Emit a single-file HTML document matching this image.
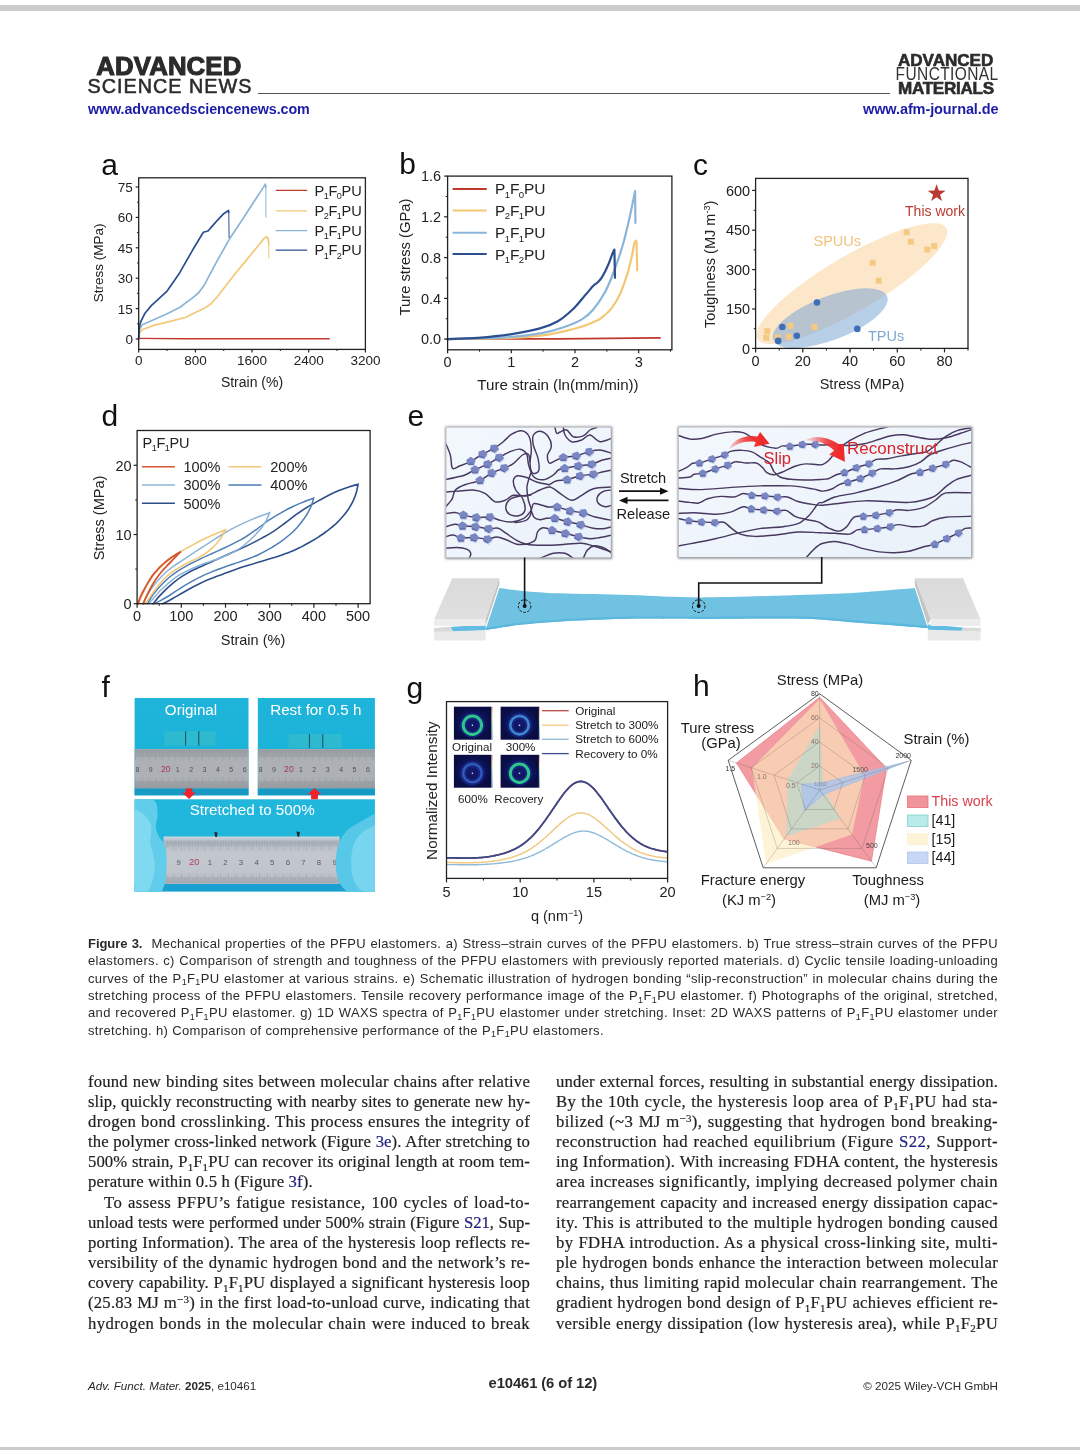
<!DOCTYPE html>
<html><head><meta charset="utf-8"><title>Adv. Funct. Mater. 2025, e10461</title>
<style>
*{margin:0;padding:0;box-sizing:border-box}
html,body{width:1080px;height:1450px;background:#fff;overflow:hidden}
body{position:relative;font-family:"Liberation Sans",sans-serif;color:#222}
#pg{position:absolute;left:0;top:0;width:1080px;height:1450px;overflow:hidden;will-change:transform;background:#fff}
.abs{position:absolute}
.bar{position:absolute;left:0;width:1080px;background:#ccc}
.hdrl{position:absolute;white-space:nowrap;color:#2b2b2b}
.url{position:absolute;font-weight:bold;color:#1c1ca8;font-size:14.6px;white-space:nowrap;letter-spacing:-0.1px}
.cap{position:absolute;left:88px;width:910px;font-size:13px;line-height:17.4px;color:#2a2a2a;text-align:justify;text-align-last:justify;white-space:nowrap;height:17.4px}
.cap.last{text-align-last:left}
.cap sub{font-size:9px;vertical-align:baseline;position:relative;top:2.5px;line-height:0}
.bl{position:absolute;width:442px;font-family:"Liberation Serif",serif;font-size:16.7px;line-height:20.17px;height:20.17px;color:#1f1f1f;-webkit-text-stroke:0.2px #1f1f1f;text-align:justify;text-align-last:justify;white-space:nowrap}
.bl.last{text-align-last:left}
.bl sub{font-size:11px;vertical-align:baseline;position:relative;top:3.5px;line-height:0}
.bl sup{font-size:11px;vertical-align:baseline;position:relative;top:-5px;line-height:0}
.bl a{color:#1c1c9c;text-decoration:none}
.ft{position:absolute;font-size:11.3px;color:#2a2a2a;white-space:nowrap}
svg text{font-family:"Liberation Sans",sans-serif}
</style></head>
<body>
<div id="pg">
<div class="bar" style="top:5px;height:6px"></div>
<div class="bar" style="top:1447px;height:3px"></div>
<div class="hdrl" id="adv1" style="left:96.3px;top:50.2px;font-size:25.8px;font-weight:bold;letter-spacing:0.1px;line-height:32px;-webkit-text-stroke:1.1px #2b2b2b">ADVANCED</div>
<div class="hdrl" id="sn" style="left:87.6px;top:74.2px;font-size:19.8px;line-height:24px;letter-spacing:1.0px;-webkit-text-stroke:0.55px #2b2b2b">SCIENCE NEWS</div>
<div class="abs" style="left:258px;top:93px;width:632px;height:1px;background:#555"></div>
<div class="url" id="url1" style="left:88px;top:100.8px;font-size:14.3px">www.advancedsciencenews.com</div>
<div class="hdrl" id="adv2" style="left:898px;top:50px;font-size:17.1px;font-weight:bold;letter-spacing:-0.05px;line-height:22px;-webkit-text-stroke:0.6px #2b2b2b">ADVANCED</div>
<div class="hdrl" id="fun" style="left:895.6px;top:64.7px;font-size:15.5px;line-height:20px;letter-spacing:0.4px;font-weight:normal;color:#333;transform:scaleY(1.13);transform-origin:50% 75%">FUNCTIONAL</div>
<div class="hdrl" id="mat" style="left:898px;top:77.7px;font-size:17.1px;font-weight:bold;letter-spacing:-0.3px;line-height:22px;-webkit-text-stroke:0.6px #2b2b2b">MATERIALS</div>
<div class="url" id="url2" style="left:863px;top:100.8px;font-size:14.5px">www.afm-journal.de</div>
<svg class="abs" style="left:0;top:130px" width="1080" height="800" viewBox="0 130 1080 800">
<text x="101.2" y="174.5" font-size="30" text-anchor="start" fill="#111" >a</text>
<path d="M138.7 338.4 L185.9 338.7 L329.2 338.7" fill="none" stroke="#c0392b" stroke-width="1.4" stroke-linejoin="round" stroke-linecap="round" />
<path d="M138.7 339 L139.7 332.7 L142.5 329.5 L154.5 325.1 L170.2 321.4 L185.9 317.3 L195.4 312.5 L204.8 308.1 L211.1 303.7 L217.4 296.8 L223.7 288.6 L236.3 272.2 L248.9 257.1 L258.4 245.5 L264 238.6 L266.5 236.7 L268.1 238.6 L268.8 243.9" fill="none" stroke="#f4c775" stroke-width="1.7" stroke-linejoin="round" stroke-linecap="round" />
<path d="M268.8 243.9 L268.8 258.1" fill="none" stroke="#f4c775" stroke-width="1.0" stroke-linejoin="round" stroke-linecap="round" />
<path d="M138.7 339 L139.3 330.5 L141.9 325.1 L151.3 320.7 L167.1 313.8 L179.6 307.5 L192.2 298.1 L198.5 293 L204.8 284.2 L211.1 272.2 L217.4 260.3 L230 238.2 L242.6 219.3 L255.2 199.8 L263.1 187.9 L265.3 184.1 L265.9 187.2" fill="none" stroke="#8ab4d8" stroke-width="1.7" stroke-linejoin="round" stroke-linecap="round" />
<path d="M265.9 187.2 L265.9 217.1" fill="none" stroke="#8ab4d8" stroke-width="1.0" stroke-linejoin="round" stroke-linecap="round" />
<path d="M138.7 339 L139 328.9 L140.6 322 L145 313.2 L151.3 305.6 L167.1 291.1 L179.6 272.9 L192.2 250.8 L203.3 232.3 L208 231 L212.7 225.6 L217.4 220.3 L223.7 213.7 L228.5 210.5 L228.8 212.4" fill="none" stroke="#2c4f8f" stroke-width="1.7" stroke-linejoin="round" stroke-linecap="round" />
<path d="M228.8 212.4 L229.1 237.6" fill="none" stroke="#2c4f8f" stroke-width="1.0" stroke-linejoin="round" stroke-linecap="round" />
<rect x="138.7" y="177.8" width="226.7" height="171.6" fill="none" stroke="#222" stroke-width="1.3"/>
<line x1="138.7" y1="349.4" x2="138.7" y2="352.4" stroke="#222" stroke-width="1.2"/>
<text x="138.7" y="365.3" font-size="13.5" text-anchor="middle" fill="#222" >0</text>
<line x1="195.4" y1="349.4" x2="195.4" y2="352.4" stroke="#222" stroke-width="1.2"/>
<text x="195.4" y="365.3" font-size="13.5" text-anchor="middle" fill="#222" >800</text>
<line x1="252" y1="349.4" x2="252" y2="352.4" stroke="#222" stroke-width="1.2"/>
<text x="252" y="365.3" font-size="13.5" text-anchor="middle" fill="#222" >1600</text>
<line x1="308.7" y1="349.4" x2="308.7" y2="352.4" stroke="#222" stroke-width="1.2"/>
<text x="308.7" y="365.3" font-size="13.5" text-anchor="middle" fill="#222" >2400</text>
<line x1="365.4" y1="349.4" x2="365.4" y2="352.4" stroke="#222" stroke-width="1.2"/>
<text x="365.4" y="365.3" font-size="13.5" text-anchor="middle" fill="#222" >3200</text>
<line x1="167.1" y1="349.4" x2="167.1" y2="351" stroke="#222" stroke-width="1"/>
<line x1="223.7" y1="349.4" x2="223.7" y2="351" stroke="#222" stroke-width="1"/>
<line x1="280.4" y1="349.4" x2="280.4" y2="351" stroke="#222" stroke-width="1"/>
<line x1="337" y1="349.4" x2="337" y2="351" stroke="#222" stroke-width="1"/>
<line x1="135.7" y1="339" x2="138.7" y2="339" stroke="#222" stroke-width="1.2"/>
<text x="132.9" y="343.9" font-size="13.5" text-anchor="end" fill="#222" >0</text>
<line x1="135.7" y1="308.6" x2="138.7" y2="308.6" stroke="#222" stroke-width="1.2"/>
<text x="132.9" y="313.5" font-size="13.5" text-anchor="end" fill="#222" >15</text>
<line x1="135.7" y1="278.2" x2="138.7" y2="278.2" stroke="#222" stroke-width="1.2"/>
<text x="132.9" y="283.1" font-size="13.5" text-anchor="end" fill="#222" >30</text>
<line x1="135.7" y1="247.8" x2="138.7" y2="247.8" stroke="#222" stroke-width="1.2"/>
<text x="132.9" y="252.7" font-size="13.5" text-anchor="end" fill="#222" >45</text>
<line x1="135.7" y1="217.4" x2="138.7" y2="217.4" stroke="#222" stroke-width="1.2"/>
<text x="132.9" y="222.3" font-size="13.5" text-anchor="end" fill="#222" >60</text>
<line x1="135.7" y1="187" x2="138.7" y2="187" stroke="#222" stroke-width="1.2"/>
<text x="132.9" y="191.9" font-size="13.5" text-anchor="end" fill="#222" >75</text>
<line x1="137" y1="323.8" x2="138.7" y2="323.8" stroke="#222" stroke-width="1"/>
<line x1="137" y1="293.4" x2="138.7" y2="293.4" stroke="#222" stroke-width="1"/>
<line x1="137" y1="263" x2="138.7" y2="263" stroke="#222" stroke-width="1"/>
<line x1="137" y1="232.6" x2="138.7" y2="232.6" stroke="#222" stroke-width="1"/>
<line x1="137" y1="202.2" x2="138.7" y2="202.2" stroke="#222" stroke-width="1"/>
<text x="252" y="386.5" font-size="14" text-anchor="middle" fill="#222" >Strain (%)</text>
<text x="103.5" y="262.8" font-size="13.5" text-anchor="middle" fill="#222" transform="rotate(-90 103.5 262.8)" >Stress (MPa)</text>
<line x1="275.7" y1="190.4" x2="307.2" y2="190.4" stroke="#c0392b" stroke-width="1.3"/>
<text x="314.4" y="195.6" font-size="14.6" text-anchor="start" fill="#222" >P<tspan dy="3.2" dx="-0.5" font-size="9.1">1</tspan><tspan dy="-3.2" dx="-0.3">F</tspan><tspan dy="3.2" dx="-0.5" font-size="9.1">0</tspan><tspan dy="-3.2" dx="-0.3">PU</tspan></text>
<line x1="275.7" y1="210.8" x2="307.2" y2="210.8" stroke="#f4c775" stroke-width="1.3"/>
<text x="314.4" y="216" font-size="14.6" text-anchor="start" fill="#222" >P<tspan dy="3.2" dx="-0.5" font-size="9.1">2</tspan><tspan dy="-3.2" dx="-0.3">F</tspan><tspan dy="3.2" dx="-0.5" font-size="9.1">1</tspan><tspan dy="-3.2" dx="-0.3">PU</tspan></text>
<line x1="275.7" y1="230.7" x2="307.2" y2="230.7" stroke="#8ab4d8" stroke-width="1.3"/>
<text x="314.4" y="235.9" font-size="14.6" text-anchor="start" fill="#222" >P<tspan dy="3.2" dx="-0.5" font-size="9.1">1</tspan><tspan dy="-3.2" dx="-0.3">F</tspan><tspan dy="3.2" dx="-0.5" font-size="9.1">1</tspan><tspan dy="-3.2" dx="-0.3">PU</tspan></text>
<line x1="275.7" y1="250.2" x2="307.2" y2="250.2" stroke="#2c4f8f" stroke-width="1.3"/>
<text x="314.4" y="255.4" font-size="14.6" text-anchor="start" fill="#222" >P<tspan dy="3.2" dx="-0.5" font-size="9.1">1</tspan><tspan dy="-3.2" dx="-0.3">F</tspan><tspan dy="3.2" dx="-0.5" font-size="9.1">2</tspan><tspan dy="-3.2" dx="-0.3">PU</tspan></text>
<text x="399.2" y="174.3" font-size="30" text-anchor="start" fill="#111" >b</text>
<path d="M447.6 339.1 L557.8 338.8 L660 337.9" fill="none" stroke="#c0392b" stroke-width="1.8" stroke-linejoin="round" stroke-linecap="round" />
<path d="M447.6 339.1 C458 338.9 494.5 338.6 510.4 337.9 C526.3 337.3 534.1 336.3 543 335.3 C551.9 334.2 557.3 332.8 563.7 331.4 C570.1 330 576.5 328.2 581.5 326.7 C586.4 325.1 590.1 323.6 593.3 322.2 C596.5 320.8 597.8 320.6 600.7 318.4 C603.7 316.1 607.9 312.9 611.1 308.9 C614.3 304.8 617.3 299.9 620 294.1 C622.7 288.2 625.4 280.2 627.4 273.9 C629.4 267.6 630.7 261.2 631.9 256.1 C633 251.1 633.6 246.3 634.2 243.7 C634.9 241.1 635.3 241 635.7 240.7 C636.1 240.5 636.4 242 636.6 242.2 L637.2 270.4" fill="none" stroke="#f4c775" stroke-width="2.2" stroke-linejoin="round" stroke-linecap="round" />
<path d="M447.6 339.1 C458 338.8 494.5 338.1 510.4 337 C526.3 336 534.1 334.5 543 332.9 C551.9 331.3 557.3 329.5 563.7 327.3 C570.1 325 576.5 322.5 581.5 319.6 C586.4 316.6 589.4 314.1 593.3 309.5 C597.3 304.8 601.7 298.1 605.2 291.7 C608.6 285.3 611.1 278.9 614.1 271 C617 263.1 620.5 252.7 623 244.3 C625.4 235.9 627.2 228 628.9 220.6 C630.6 213.2 632.3 204.8 633.3 199.9 C634.4 194.9 634.8 192.4 635.1 191 L635.4 223" fill="none" stroke="#8ab4d8" stroke-width="2.2" stroke-linejoin="round" stroke-linecap="round" />
<path d="M447.6 339.1 C452.6 338.9 467.3 338.7 477.8 337.9 C488.2 337.1 500 336 510.4 334.4 C520.7 332.8 532.1 330.6 540 328.4 C547.9 326.3 552.3 324.5 557.8 321.3 C563.2 318.2 568.1 313.7 572.6 309.5 C577 305.3 581 300.1 584.4 296.1 C587.9 292.2 591.1 288.1 593.3 285.8 C595.6 283.5 596.3 283.7 597.8 282.2 C599.3 280.7 600.5 279.8 602.2 276.9 C604 274 606.4 269 608.1 265 C609.9 261.1 611.6 255.8 612.6 253.2 C613.6 250.6 614.1 250.2 614.4 249.6 L615 277.8" fill="none" stroke="#2c4f8f" stroke-width="2.2" stroke-linejoin="round" stroke-linecap="round" />
<rect x="447.6" y="176.1" width="224.3" height="173.7" fill="none" stroke="#222" stroke-width="1.3"/>
<line x1="447.6" y1="349.8" x2="447.6" y2="353.3" stroke="#222" stroke-width="1.2"/>
<text x="447.6" y="367.4" font-size="14.5" text-anchor="middle" fill="#222" >0</text>
<line x1="511.3" y1="349.8" x2="511.3" y2="353.3" stroke="#222" stroke-width="1.2"/>
<text x="511.3" y="367.4" font-size="14.5" text-anchor="middle" fill="#222" >1</text>
<line x1="575" y1="349.8" x2="575" y2="353.3" stroke="#222" stroke-width="1.2"/>
<text x="575" y="367.4" font-size="14.5" text-anchor="middle" fill="#222" >2</text>
<line x1="638.7" y1="349.8" x2="638.7" y2="353.3" stroke="#222" stroke-width="1.2"/>
<text x="638.7" y="367.4" font-size="14.5" text-anchor="middle" fill="#222" >3</text>
<line x1="479.5" y1="349.8" x2="479.5" y2="351.7" stroke="#222" stroke-width="1"/>
<line x1="543.1" y1="349.8" x2="543.1" y2="351.7" stroke="#222" stroke-width="1"/>
<line x1="606.9" y1="349.8" x2="606.9" y2="351.7" stroke="#222" stroke-width="1"/>
<line x1="670.5" y1="349.8" x2="670.5" y2="351.7" stroke="#222" stroke-width="1"/>
<line x1="444.1" y1="339.1" x2="447.6" y2="339.1" stroke="#222" stroke-width="1.2"/>
<text x="441.1" y="344.3" font-size="14.5" text-anchor="end" fill="#222" >0.0</text>
<line x1="444.1" y1="298.4" x2="447.6" y2="298.4" stroke="#222" stroke-width="1.2"/>
<text x="441.1" y="303.6" font-size="14.5" text-anchor="end" fill="#222" >0.4</text>
<line x1="444.1" y1="257.6" x2="447.6" y2="257.6" stroke="#222" stroke-width="1.2"/>
<text x="441.1" y="262.8" font-size="14.5" text-anchor="end" fill="#222" >0.8</text>
<line x1="444.1" y1="216.8" x2="447.6" y2="216.8" stroke="#222" stroke-width="1.2"/>
<text x="441.1" y="222.1" font-size="14.5" text-anchor="end" fill="#222" >1.2</text>
<line x1="444.1" y1="176.1" x2="447.6" y2="176.1" stroke="#222" stroke-width="1.2"/>
<text x="441.1" y="181.3" font-size="14.5" text-anchor="end" fill="#222" >1.6</text>
<line x1="445.7" y1="318.7" x2="447.6" y2="318.7" stroke="#222" stroke-width="1"/>
<line x1="445.7" y1="278" x2="447.6" y2="278" stroke="#222" stroke-width="1"/>
<line x1="445.7" y1="237.2" x2="447.6" y2="237.2" stroke="#222" stroke-width="1"/>
<line x1="445.7" y1="196.5" x2="447.6" y2="196.5" stroke="#222" stroke-width="1"/>
<text x="558" y="389.8" font-size="15.1" text-anchor="middle" fill="#222" >Ture strain (ln(mm/min))</text>
<text x="409.5" y="257" font-size="14.8" text-anchor="middle" fill="#222" transform="rotate(-90 409.5 257)" >Ture stress (GPa)</text>
<line x1="452.6" y1="188.9" x2="486.7" y2="188.9" stroke="#c0392b" stroke-width="2"/>
<text x="495" y="194.4" font-size="15.5" text-anchor="start" fill="#222" >P<tspan dy="3.4" dx="-0.5" font-size="9.6">1</tspan><tspan dy="-3.4" dx="-0.3">F</tspan><tspan dy="3.4" dx="-0.5" font-size="9.6">0</tspan><tspan dy="-3.4" dx="-0.3">PU</tspan></text>
<line x1="452.6" y1="210.5" x2="486.7" y2="210.5" stroke="#f4c775" stroke-width="2"/>
<text x="495" y="216" font-size="15.5" text-anchor="start" fill="#222" >P<tspan dy="3.4" dx="-0.5" font-size="9.6">2</tspan><tspan dy="-3.4" dx="-0.3">F</tspan><tspan dy="3.4" dx="-0.5" font-size="9.6">1</tspan><tspan dy="-3.4" dx="-0.3">PU</tspan></text>
<line x1="452.6" y1="232.7" x2="486.7" y2="232.7" stroke="#8ab4d8" stroke-width="2"/>
<text x="495" y="238.2" font-size="15.5" text-anchor="start" fill="#222" >P<tspan dy="3.4" dx="-0.5" font-size="9.6">1</tspan><tspan dy="-3.4" dx="-0.3">F</tspan><tspan dy="3.4" dx="-0.5" font-size="9.6">1</tspan><tspan dy="-3.4" dx="-0.3">PU</tspan></text>
<line x1="452.6" y1="254" x2="486.7" y2="254" stroke="#2c4f8f" stroke-width="2"/>
<text x="495" y="259.5" font-size="15.5" text-anchor="start" fill="#222" >P<tspan dy="3.4" dx="-0.5" font-size="9.6">1</tspan><tspan dy="-3.4" dx="-0.3">F</tspan><tspan dy="3.4" dx="-0.5" font-size="9.6">2</tspan><tspan dy="-3.4" dx="-0.3">PU</tspan></text>
<text x="693" y="174.8" font-size="30" text-anchor="start" fill="#111" >c</text>
<clipPath id="clipc"><rect x="755.6" y="178.4" width="212.4" height="170"/></clipPath>
<g clip-path="url(#clipc)">
<ellipse cx="851.9" cy="283.6" rx="109.5" ry="27.5" fill="#fce7cb" transform="rotate(-30.5 851.9 283.6)"/>
<ellipse cx="830.2" cy="318.2" rx="61" ry="21.8" fill="#7ea8d6" fill-opacity="0.55" transform="rotate(-21 830.2 318.2)"/>
</g>
<rect x="903.7" y="229.3" width="6" height="6" fill="#f6c983"/>
<rect x="907.8" y="238.7" width="6" height="6" fill="#f6c983"/>
<rect x="924.2" y="246.6" width="6" height="6" fill="#f6c983"/>
<rect x="931.1" y="243.1" width="6" height="6" fill="#f6c983"/>
<rect x="869.7" y="259.8" width="6" height="6" fill="#f6c983"/>
<rect x="875.7" y="277.7" width="6" height="6" fill="#f6c983"/>
<rect x="764.2" y="328.1" width="6" height="6" fill="#f6c983"/>
<rect x="763.3" y="334.7" width="6" height="6" fill="#f6c983"/>
<rect x="774.6" y="334.4" width="6" height="6" fill="#f6c983"/>
<rect x="785.6" y="333.8" width="6" height="6" fill="#f6c983"/>
<rect x="787.5" y="322.8" width="6" height="6" fill="#f6c983"/>
<rect x="811.4" y="324" width="6" height="6" fill="#f6c983"/>
<circle cx="817" cy="302.5" r="3.3" fill="#3f6eb4"/>
<circle cx="782.3" cy="327" r="3.3" fill="#3f6eb4"/>
<circle cx="796.8" cy="335.8" r="3.3" fill="#3f6eb4"/>
<circle cx="778.2" cy="340.9" r="3.3" fill="#3f6eb4"/>
<circle cx="857.3" cy="328.9" r="3.3" fill="#3f6eb4"/>
<path d="M936.6 184.2 L938.8 190.5 L945.5 190.7 L940.1 194.7 L942.1 201.1 L936.6 197.2 L931.1 201.1 L933.1 194.7 L927.8 190.7 L934.4 190.5Z" fill="#b93a32"/>
<text x="935" y="215.8" font-size="14" text-anchor="middle" fill="#b93a32" >This work</text>
<text x="813.5" y="246" font-size="14.5" text-anchor="start" fill="#f3c27c" >SPUUs</text>
<text x="868" y="340.5" font-size="14.5" text-anchor="start" fill="#7ea9d2" >TPUs</text>
<rect x="755.6" y="178.4" width="212.4" height="170" fill="none" stroke="#222" stroke-width="1.3"/>
<line x1="755.6" y1="348.4" x2="755.6" y2="352.4" stroke="#222" stroke-width="1.2"/>
<text x="755.6" y="366" font-size="14.5" text-anchor="middle" fill="#222" >0</text>
<line x1="802.8" y1="348.4" x2="802.8" y2="352.4" stroke="#222" stroke-width="1.2"/>
<text x="802.8" y="366" font-size="14.5" text-anchor="middle" fill="#222" >20</text>
<line x1="850" y1="348.4" x2="850" y2="352.4" stroke="#222" stroke-width="1.2"/>
<text x="850" y="366" font-size="14.5" text-anchor="middle" fill="#222" >40</text>
<line x1="897.3" y1="348.4" x2="897.3" y2="352.4" stroke="#222" stroke-width="1.2"/>
<text x="897.3" y="366" font-size="14.5" text-anchor="middle" fill="#222" >60</text>
<line x1="944.5" y1="348.4" x2="944.5" y2="352.4" stroke="#222" stroke-width="1.2"/>
<text x="944.5" y="366" font-size="14.5" text-anchor="middle" fill="#222" >80</text>
<line x1="779.2" y1="348.4" x2="779.2" y2="350.6" stroke="#222" stroke-width="1"/>
<line x1="826.4" y1="348.4" x2="826.4" y2="350.6" stroke="#222" stroke-width="1"/>
<line x1="873.6" y1="348.4" x2="873.6" y2="350.6" stroke="#222" stroke-width="1"/>
<line x1="920.9" y1="348.4" x2="920.9" y2="350.6" stroke="#222" stroke-width="1"/>
<line x1="968" y1="348.4" x2="968" y2="350.6" stroke="#222" stroke-width="1"/>
<line x1="752.1" y1="348.4" x2="755.6" y2="348.4" stroke="#222" stroke-width="1.2"/>
<text x="750.1" y="353.6" font-size="14.5" text-anchor="end" fill="#222" >0</text>
<line x1="752.1" y1="309" x2="755.6" y2="309" stroke="#222" stroke-width="1.2"/>
<text x="750.1" y="314.2" font-size="14.5" text-anchor="end" fill="#222" >150</text>
<line x1="752.1" y1="269.6" x2="755.6" y2="269.6" stroke="#222" stroke-width="1.2"/>
<text x="750.1" y="274.8" font-size="14.5" text-anchor="end" fill="#222" >300</text>
<line x1="752.1" y1="230.2" x2="755.6" y2="230.2" stroke="#222" stroke-width="1.2"/>
<text x="750.1" y="235.4" font-size="14.5" text-anchor="end" fill="#222" >450</text>
<line x1="752.1" y1="190.4" x2="755.6" y2="190.4" stroke="#222" stroke-width="1.2"/>
<text x="750.1" y="195.6" font-size="14.5" text-anchor="end" fill="#222" >600</text>
<line x1="753.7" y1="328.7" x2="755.6" y2="328.7" stroke="#222" stroke-width="1"/>
<line x1="753.7" y1="289.3" x2="755.6" y2="289.3" stroke="#222" stroke-width="1"/>
<line x1="753.7" y1="249.9" x2="755.6" y2="249.9" stroke="#222" stroke-width="1"/>
<line x1="753.7" y1="210.3" x2="755.6" y2="210.3" stroke="#222" stroke-width="1"/>
<text x="862" y="389" font-size="14.5" text-anchor="middle" fill="#222" >Stress (MPa)</text>
<text x="715.4" y="264.4" font-size="14.5" text-anchor="middle" fill="#222" transform="rotate(-90 715.4 264.4)" >Toughness (MJ m<tspan dy="-5.2" font-size="9">-3</tspan><tspan dy="5.2">)</tspan></text>
<text x="101.5" y="426" font-size="30" text-anchor="start" fill="#111" >d</text>
<path d="M153.1 603.8 C154.1 602.6 157.5 598.3 159.6 595.9 C161.7 593.6 164.7 590.5 167 588.3 C169.4 586.1 172.7 583.3 175.1 581.3 C177.6 579.4 180.3 577.4 183.2 575.6 C186.2 573.8 191.3 571 194.8 569.3 C198.3 567.6 203.1 565.5 206.4 564 C209.7 562.5 213.7 560.7 216.8 559.4 C219.9 558 223.9 556.2 227.2 554.7 C230.5 553.3 235.3 551.2 238.8 549.6 C242.3 548 246.9 545.8 250.4 544.1 C253.8 542.3 258.5 540 261.9 538.1 C265.4 536.1 270 533.6 273.5 531.3 C277 529.1 281.6 525.6 285.1 523 C288.6 520.4 293.5 516.5 296.7 514.2 C299.8 512 303.1 509.7 305.9 508 C308.7 506.2 312.1 504.4 315.2 502.6 C318.3 500.9 323.3 497.9 326.8 496.2 C330.2 494.4 335 492.2 338.3 490.8 C341.6 489.4 345.8 487.9 348.8 486.9 C351.7 485.9 356.6 484.7 358 484.4 L358 484.4 C357.8 485.5 357.1 489.8 356.4 492.2 C355.7 494.6 354.5 497.9 353.4 500.3 C352.2 502.8 350.3 506.3 348.8 508.7 C347.2 511.1 344.9 514 343 516.3 C341 518.6 338 521.9 335.6 524.2 C333.1 526.4 329.3 529.2 326.8 531.1 C324.2 533 321.1 535.3 318.7 536.9 C316.2 538.5 313.2 540.3 310.6 541.8 C308 543.3 304.1 545.4 301.3 546.9 C298.5 548.3 295.2 550 292 551.2 C288.9 552.5 283.9 554.2 280.5 555.4 C277 556.6 272.4 558 268.9 559.1 C265.4 560.2 260.8 561.6 257.3 562.6 C253.8 563.6 249.2 565 245.7 566.1 C242.3 567.2 237.6 568.8 234.2 570 C230.7 571.2 226.1 572.9 222.6 574.2 C219.1 575.5 214.5 577.1 211 578.6 C207.5 580 202.9 582 199.4 583.7 C196 585.3 191.3 587.8 187.9 589.7 C184.4 591.6 179.2 594.7 176.3 596.4 C173.3 598.1 170.3 599.9 168.2 601 C166.1 602.1 163.3 603.4 162.4 603.8" fill="none" stroke="#2c4f8c" stroke-width="1.6" stroke-linejoin="miter" stroke-miterlimit="6" stroke-linecap="round"/>
<path d="M147.4 603.8 C148.2 602.4 151.2 597.2 153.1 594.5 C155.1 591.9 157.8 588.6 160.1 586.2 C162.3 583.8 165.8 580.5 168.2 578.3 C170.6 576.2 173.3 574.1 176.3 572.1 C179.2 570.1 184.4 567 187.9 565.1 C191.3 563.2 196 561 199.4 559.4 C202.9 557.7 207.5 555.6 211 554 C214.5 552.4 219.1 550.3 222.6 548.7 C226.1 547.1 230.7 544.9 234.2 543.1 C237.6 541.4 242.3 539.1 245.7 536.9 C249.2 534.7 253.8 531.3 257.3 528.8 C260.8 526.3 265.4 522.6 268.9 520.2 C272.4 517.9 277 515 280.5 513.1 C283.9 511.1 288.7 508.6 292 507 C295.3 505.4 299.2 503.7 302.5 502.4 C305.7 501.1 311.9 498.9 313.6 498.2 L313.6 498.2 C313.3 499.2 312.5 502.6 311.7 504.7 C310.9 506.8 309.5 509.8 308.2 512.1 C307 514.4 304.9 517.6 303.1 520 C301.4 522.4 298.7 525.6 296.7 527.9 C294.6 530.1 291.7 533 289.3 535 C286.8 537.1 283.5 539.6 280.5 541.8 C277.4 543.9 272.4 547.2 268.9 549.2 C265.4 551.2 260.8 553.6 257.3 555.2 C253.8 556.8 249.2 558.5 245.7 559.8 C242.3 561.1 237.6 562.6 234.2 563.8 C230.7 564.9 226.1 566.4 222.6 567.7 C219.1 568.9 214.5 570.6 211 572.1 C207.5 573.5 202.9 575.7 199.4 577.4 C196 579.1 191 581.9 187.9 583.7 C184.7 585.5 181.4 587.7 178.6 589.4 C175.8 591.2 172.1 593.8 169.4 595.5 C166.6 597.2 162.5 599.5 160.1 600.8 C157.7 602 154.2 603.3 153.1 603.8" fill="none" stroke="#4d7db6" stroke-width="1.5" stroke-linejoin="miter" stroke-miterlimit="6" stroke-linecap="round"/>
<path d="M142.7 603.8 C143.4 602.5 145.8 597.6 147.4 595 C148.9 592.4 151.2 588.8 153.1 586.2 C155.1 583.6 158 580.1 160.1 577.9 C162.2 575.6 165 573 167 571.2 C169.1 569.4 171.9 567.3 174 565.8 C176.1 564.4 178.5 563 180.9 561.4 C183.4 559.8 187.4 557 190.2 555.2 C193 553.3 196.1 551.3 199.4 549.2 C202.7 547 208.3 543.3 212.2 540.8 C216.1 538.3 221.9 534.5 225.4 532.5 C228.8 530.5 232.3 528.7 235.3 527.2 C238.4 525.6 242.4 523.6 245.7 522.1 C249 520.6 253.7 518.6 257.3 517.2 C260.9 515.8 267.7 513.5 269.6 512.8 L269.6 512.8 C269.1 513.9 267.7 517.6 266.6 519.8 C265.4 521.9 263.5 525.1 261.9 527.2 C260.4 529.3 257.9 532 256.2 533.9 C254.4 535.8 252.6 537.6 250.4 539.7 C248.1 541.7 243.9 545.6 241.1 547.5 C238.3 549.5 234.6 551.4 231.9 552.9 C229.1 554.3 225.7 555.8 222.6 557 C219.5 558.3 214.5 560 211 561.2 C207.5 562.5 202.9 564 199.4 565.4 C196 566.8 191.3 568.7 187.9 570.5 C184.4 572.2 179.2 575 176.3 576.9 C173.3 578.9 170.6 581.3 168.2 583.4 C165.8 585.5 162.3 588.5 160.1 590.8 C157.8 593.1 154.9 596.8 153.1 598.7 C151.4 600.6 149.2 603 148.5 603.8" fill="none" stroke="#8ab5d8" stroke-width="1.5" stroke-linejoin="miter" stroke-miterlimit="6" stroke-linecap="round"/>
<path d="M138.8 603.8 C139.1 602.8 140.2 598.9 141.1 596.9 C142 594.8 143.4 592.2 144.6 589.9 C145.8 587.6 147.8 583.9 149.2 581.6 C150.6 579.3 152.3 576.6 153.8 574.6 C155.4 572.6 157.9 570 159.6 568.1 C161.4 566.3 163.4 564.3 165.4 562.6 C167.5 560.9 171 558.2 173.3 556.6 C175.6 554.9 178.4 553 180.9 551.5 C183.5 550 187.4 547.9 190.2 546.4 C193 544.9 196.1 543 199.4 541.3 C202.7 539.6 208.3 537 212.2 535.3 C216.1 533.5 223.4 530.6 225.4 529.7 L225.4 529.7 C224.9 530.7 223.2 534.4 222.1 536.2 C221 538 219.6 539.9 218 541.8 C216.4 543.6 213.6 546.8 211.5 548.7 C209.4 550.6 206.4 553 204.1 554.5 C201.7 556 198.4 557.6 196 558.9 C193.5 560.1 190.3 561.6 187.9 562.8 C185.4 564.1 182.2 565.8 179.8 567.2 C177.3 568.6 173.9 570.6 171.7 572.3 C169.4 574 166.8 576.2 164.7 578.3 C162.6 580.4 159.9 583.6 157.8 586.2 C155.7 588.8 152.7 593.3 150.8 595.9 C148.9 598.6 145.9 602.6 145 603.8" fill="none" stroke="#f3c878" stroke-width="1.6" stroke-linejoin="miter" stroke-miterlimit="6" stroke-linecap="round"/>
<path d="M138.1 603.8 C138.4 602.8 139.5 598.9 140.4 596.9 C141.3 594.8 142.7 592.2 143.9 589.9 C145.1 587.6 147.1 583.9 148.5 581.6 C149.9 579.3 151.6 576.6 153.1 574.6 C154.7 572.6 157.2 570 158.9 568.1 C160.7 566.3 162.6 564.3 164.7 562.6 C166.8 560.9 170.4 558.2 172.8 556.6 C175.3 554.9 179.7 552.2 180.9 551.5 L180.9 551.5 C180.2 552.2 177.7 554.7 176.3 556.1 C174.9 557.5 173.2 559.3 171.7 561 C170.1 562.6 167.6 565.1 165.9 567 C164.1 568.9 161.7 571.4 160.1 573.5 C158.5 575.5 156.5 578.4 155 580.6 C153.5 582.9 151.7 586.1 150.4 588.5 C149.1 590.9 147.3 594.6 146.2 596.9 C145.1 599.1 143.6 602.8 143.2 603.8" fill="none" stroke="#d5552f" stroke-width="1.8" stroke-linejoin="miter" stroke-miterlimit="6" stroke-linecap="round"/>
<rect x="137.1" y="430.5" width="233" height="173.2" fill="none" stroke="#222" stroke-width="1.3"/>
<line x1="137.1" y1="603.7" x2="137.1" y2="607.7" stroke="#222" stroke-width="1.2"/>
<text x="137.1" y="621" font-size="14.5" text-anchor="middle" fill="#222" >0</text>
<line x1="181.3" y1="603.7" x2="181.3" y2="607.7" stroke="#222" stroke-width="1.2"/>
<text x="181.3" y="621" font-size="14.5" text-anchor="middle" fill="#222" >100</text>
<line x1="225.5" y1="603.7" x2="225.5" y2="607.7" stroke="#222" stroke-width="1.2"/>
<text x="225.5" y="621" font-size="14.5" text-anchor="middle" fill="#222" >200</text>
<line x1="269.7" y1="603.7" x2="269.7" y2="607.7" stroke="#222" stroke-width="1.2"/>
<text x="269.7" y="621" font-size="14.5" text-anchor="middle" fill="#222" >300</text>
<line x1="313.9" y1="603.7" x2="313.9" y2="607.7" stroke="#222" stroke-width="1.2"/>
<text x="313.9" y="621" font-size="14.5" text-anchor="middle" fill="#222" >400</text>
<line x1="358.1" y1="603.7" x2="358.1" y2="607.7" stroke="#222" stroke-width="1.2"/>
<text x="358.1" y="621" font-size="14.5" text-anchor="middle" fill="#222" >500</text>
<line x1="159.2" y1="603.7" x2="159.2" y2="605.9" stroke="#222" stroke-width="1"/>
<line x1="203.4" y1="603.7" x2="203.4" y2="605.9" stroke="#222" stroke-width="1"/>
<line x1="247.6" y1="603.7" x2="247.6" y2="605.9" stroke="#222" stroke-width="1"/>
<line x1="291.8" y1="603.7" x2="291.8" y2="605.9" stroke="#222" stroke-width="1"/>
<line x1="336" y1="603.7" x2="336" y2="605.9" stroke="#222" stroke-width="1"/>
<line x1="133.6" y1="603.7" x2="137.1" y2="603.7" stroke="#222" stroke-width="1.2"/>
<text x="131.6" y="608.9" font-size="14.5" text-anchor="end" fill="#222" >0</text>
<line x1="133.6" y1="534.5" x2="137.1" y2="534.5" stroke="#222" stroke-width="1.2"/>
<text x="131.6" y="539.7" font-size="14.5" text-anchor="end" fill="#222" >10</text>
<line x1="133.6" y1="465.3" x2="137.1" y2="465.3" stroke="#222" stroke-width="1.2"/>
<text x="131.6" y="470.5" font-size="14.5" text-anchor="end" fill="#222" >20</text>
<line x1="135.2" y1="569.1" x2="137.1" y2="569.1" stroke="#222" stroke-width="1"/>
<line x1="135.2" y1="499.9" x2="137.1" y2="499.9" stroke="#222" stroke-width="1"/>
<text x="253" y="645" font-size="14.5" text-anchor="middle" fill="#222" >Strain (%)</text>
<text x="103.5" y="518" font-size="14.5" text-anchor="middle" fill="#222" transform="rotate(-90 103.5 518)" >Stress (MPa)</text>
<text x="142.5" y="448.2" font-size="14.5" text-anchor="start" fill="#222" >P<tspan dy="3.2" dx="-0.5" font-size="9">1</tspan><tspan dy="-3.2" dx="-0.3">F</tspan><tspan dy="3.2" dx="-0.5" font-size="9">1</tspan><tspan dy="-3.2" dx="-0.3">PU</tspan></text>
<line x1="141.9" y1="466.7" x2="174.9" y2="466.7" stroke="#d5552f" stroke-width="1.5"/>
<text x="183.4" y="472" font-size="14.5" text-anchor="start" fill="#222" >100%</text>
<line x1="228.5" y1="466.7" x2="261.5" y2="466.7" stroke="#f3c878" stroke-width="1.5"/>
<text x="270.3" y="472" font-size="14.5" text-anchor="start" fill="#222" >200%</text>
<line x1="141.9" y1="485" x2="174.9" y2="485" stroke="#8ab5d8" stroke-width="1.5"/>
<text x="183.4" y="490.3" font-size="14.5" text-anchor="start" fill="#222" >300%</text>
<line x1="228.5" y1="485" x2="261.5" y2="485" stroke="#4d7db6" stroke-width="1.5"/>
<text x="270.3" y="490.3" font-size="14.5" text-anchor="start" fill="#222" >400%</text>
<line x1="141.9" y1="503.3" x2="174.9" y2="503.3" stroke="#2c4f8c" stroke-width="1.5"/>
<text x="183.4" y="508.6" font-size="14.5" text-anchor="start" fill="#222" >500%</text>
<defs><linearGradient id="gbox" x1="0" y1="0" x2="1" y2="1"><stop offset="0" stop-color="#f3f8fd"/><stop offset="1" stop-color="#e9f1f9"/></linearGradient><linearGradient id="garr1" gradientUnits="userSpaceOnUse" x1="729" y1="449" x2="760" y2="438"><stop offset="0" stop-color="#f04040" stop-opacity="0.15"/><stop offset="0.6" stop-color="#f03535" stop-opacity="0.9"/><stop offset="1" stop-color="#f02a2a"/></linearGradient><linearGradient id="garr2" gradientUnits="userSpaceOnUse" x1="806" y1="440" x2="840" y2="448"><stop offset="0" stop-color="#f04040" stop-opacity="0.15"/><stop offset="0.6" stop-color="#f03535" stop-opacity="0.9"/><stop offset="1" stop-color="#f02a2a"/></linearGradient><linearGradient id="gclamp" x1="0" y1="0" x2="0" y2="1"><stop offset="0" stop-color="#dadada"/><stop offset="1" stop-color="#e0e0e0"/></linearGradient><filter id="fsh" x="-5%" y="-5%" width="110%" height="110%"><feGaussianBlur stdDeviation="1.1"/></filter></defs>
<text x="407.5" y="426" font-size="30" text-anchor="start" fill="#111" >e</text>
<rect x="445.3" y="426.5" width="166.9" height="132.6" fill="#8e9197" filter="url(#fsh)"/>
<rect x="446.3" y="427.5" width="164.5" height="130" fill="url(#gbox)"/>
<clipPath id="cle1"><rect x="446.3" y="427.5" width="164.5" height="130"/></clipPath>
<g clip-path="url(#cle1)">
<path d="M445 441.7 C445.9 443.9 449.1 450.6 450.3 455 C451.6 459.4 450.9 466.5 452.5 468.3 C454.1 470.1 456.9 467 460 465.8 C463.1 464.7 467.1 463.3 470.8 461.3 C474.6 459.4 478.6 456.3 482.5 454.2 C486.4 452 490.7 450.4 494.2 448.3 C497.6 446.2 500.4 444 503.3 441.7 C506.2 439.3 508.6 436 511.7 434.2 C514.7 432.4 518.8 430.4 521.7 430.8 C524.6 431.2 527.6 433.5 529.2 436.7 C530.8 439.9 531.2 445.6 531.3 450 C531.5 454.4 529.8 459.5 530 463.3 C530.2 467.2 531.1 471.8 532.5 473 C533.9 474.2 537.8 473.3 538.7 470.8 C539.6 468.4 538.9 462.6 538 458.3 C537.1 454 534.1 448.8 533.3 445 C532.6 441.2 532.2 437.6 533.3 435.3 C534.4 433.1 537.5 431.1 540 431.3 C542.5 431.6 546.4 434.1 548.3 436.7 C550.2 439.2 551.5 443.6 551.3 446.7 C551.2 449.7 547.9 452.3 547.5 455 C547.1 457.7 547.9 462 549.2 463 C550.4 464 552.6 461.8 555 460.8 C557.4 459.9 559.8 458.3 563.3 457.5 C566.9 456.7 572 456.8 576.3 455.8 C580.6 454.9 585.2 452.6 589.2 451.7 C593.1 450.7 596.2 449.7 600 450 C603.8 450.3 609.7 452.8 611.7 453.3" fill="none" stroke="#48385f" stroke-width="1.45" stroke-linejoin="round" stroke-linecap="round" />
<path d="M445 479.7 C446.7 479.3 451.7 478.3 455 477.5 C458.3 476.7 461.7 476.3 465 475 C468.3 473.7 471.2 471.5 475 469.7 C478.8 467.9 483.5 466.2 487.5 464.2 C491.5 462.1 495.4 459.6 499.2 457.5 C502.9 455.4 506.5 453.1 510 451.7 C513.5 450.3 517.2 448.8 520 449.2 C522.8 449.6 525.2 451.5 526.7 454.2 C528.1 456.9 527.5 461.6 528.7 465.3 C529.8 469.1 531.2 474.3 533.7 476.7 C536.2 479.1 540.4 479.9 543.7 479.7 C546.9 479.4 550.9 476.6 553.3 475 C555.8 473.4 556.4 471.1 558.3 470 C560.2 468.9 561.3 469 564.7 468.3 C568 467.6 573.8 466.5 578.3 465.8 C582.8 465.1 587.8 465.1 591.7 464.2 C595.6 463.2 598.3 461.4 601.7 460.3 C605 459.3 610 458.4 611.7 458" fill="none" stroke="#48385f" stroke-width="1.45" stroke-linejoin="round" stroke-linecap="round" />
<path d="M445 507.5 C446.2 506.1 450.3 502.1 452 499.2 C453.7 496.2 453.2 492.4 455.3 490 C457.5 487.6 460.9 486.3 465 484.7 C469.1 483.1 475.6 482.3 480 480.3 C484.4 478.4 487.6 475.1 491.7 473 C495.7 470.9 500.6 469.6 504.2 468 C507.8 466.4 510.3 465.8 513.3 463.7 C516.4 461.5 520 456.6 522.5 455 C525 453.4 527.1 453.1 528.3 454.2 C529.6 455.3 529.7 460.4 530 461.7" fill="none" stroke="#48385f" stroke-width="1.45" stroke-linejoin="round" stroke-linecap="round" />
<path d="M445 492 C447.5 491.8 455.3 491.3 460 491 C464.7 490.7 469.2 489.6 473.3 490 C477.5 490.4 481.4 491.4 485 493.3 C488.6 495.3 491.7 500.5 495 501.7 C498.3 502.8 501.9 501.4 505 500.3 C508.1 499.3 509.7 496.1 513.3 495.3 C516.9 494.6 522.2 496.7 526.7 495.8 C531.1 494.9 536.1 491.5 540 490 C543.9 488.5 546.7 486.4 550 487 C553.3 487.6 556.4 491.1 560 493.3 C563.6 495.6 568.1 500 571.7 500.3 C575.3 500.7 578.1 497.3 581.7 495.3 C585.3 493.4 588.3 490.1 593.3 488.7 C598.3 487.3 608.6 487.3 611.7 487" fill="none" stroke="#48385f" stroke-width="1.45" stroke-linejoin="round" stroke-linecap="round" />
<path d="M549.2 484.7 C547.1 484.2 540.4 483.2 536.7 482 C532.9 480.8 529.9 478.5 526.7 477.5 C523.5 476.5 519.7 475.3 517.5 475.8 C515.3 476.4 513.6 478.5 513.3 480.8 C513.1 483.2 514.3 487.1 515.8 490 C517.4 492.9 521 495 522.5 498.3 C524 501.7 525.6 507.1 525 510 C524.4 512.9 521.3 515.1 518.7 515.8 C516 516.5 511.3 515.7 509.2 514.2 C507 512.6 505.7 509.1 505.8 506.7 C506 504.2 507.6 501.1 510 499.3 C512.4 497.6 516.5 496.7 520 496 C523.5 495.3 529 495.2 530.8 495" fill="none" stroke="#48385f" stroke-width="1.45" stroke-linejoin="round" stroke-linecap="round" />
<path d="M530.8 473 C530.2 475.3 527.4 482.2 527 486.7 C526.6 491.2 527.6 496 528.3 500 C529.1 504 531.6 507.5 531.3 510.8 C531.1 514.2 529.4 518.1 526.7 520 C523.9 521.9 516.9 522.1 515 522.5" fill="none" stroke="#48385f" stroke-width="1.45" stroke-linejoin="round" stroke-linecap="round" />
<path d="M445 513.7 C446.7 513.5 451.9 512.3 455 512.5 C458.1 512.7 459.8 514.2 463.3 515 C466.9 515.8 471.9 517.2 476.3 517.5 C480.8 517.8 486.1 516.5 490 517 C493.9 517.5 496.4 519.5 500 520.3 C503.6 521.2 507.8 522.3 511.7 522 C515.6 521.7 520.1 520.5 523.3 518.7 C526.5 516.8 529.1 513.3 530.8 510.8 C532.6 508.3 531.8 504.6 533.7 503.7 C535.5 502.8 539.6 504.8 542 505.3 C544.4 505.9 545.8 506.7 548.3 507 C550.9 507.3 553.6 506.4 557.2 507 C560.8 507.6 565.6 509.8 570 510.8 C574.4 511.8 579.2 512 583.3 513 C587.5 514 590.3 515.8 595 517 C599.7 518.2 608.9 519.8 611.7 520.3" fill="none" stroke="#48385f" stroke-width="1.45" stroke-linejoin="round" stroke-linecap="round" />
<path d="M445 527 C446.7 526.6 452.1 524.5 455 524.3 C457.9 524.1 459.1 525.4 462.5 525.8 C465.9 526.2 471.1 526.2 475.5 526.7 C479.9 527.1 484.9 528.4 488.7 528.7 C492.5 528.9 495.3 527.5 498.3 528.3 C501.3 529.2 503.6 531.7 506.7 533.7 C509.7 535.7 513.3 538.6 516.7 540.3 C520 542.1 522.2 543.5 526.7 544.3 C531.1 545.2 536.9 545.3 543.3 545.3 C549.7 545.3 558.6 544.7 565 544.3 C571.4 544 576.4 542.9 581.7 543.3 C586.9 543.8 591.7 545.6 596.7 547 C601.7 548.4 609.2 551.2 611.7 552" fill="none" stroke="#48385f" stroke-width="1.45" stroke-linejoin="round" stroke-linecap="round" />
<path d="M445 537 C446.4 536.7 450.7 534.8 453.3 535 C456 535.2 457.4 537.6 460.8 538 C464.3 538.4 469.7 537.3 474.2 537.5 C478.6 537.7 483.8 539.2 487.5 539.2 C491.2 539.1 493.5 536.9 496.7 537 C499.9 537.1 503.3 538.8 506.7 540 C510 541.2 513.3 543.4 516.7 544.2 C520 544.9 525 544.3 526.7 544.3" fill="none" stroke="#48385f" stroke-width="1.45" stroke-linejoin="round" stroke-linecap="round" />
<path d="M526.7 544.3 C528.1 543.7 533.2 542.4 535 540.3 C536.8 538.3 536.3 534.1 537.5 532 C538.7 529.9 540.2 528.6 542 528 C543.8 527.4 546.7 528.3 548.3 528.7 C550 529.1 549.2 529.6 552 530.3 C554.8 531.1 560.9 532.3 565.3 533.3 C569.8 534.4 574.6 535.8 578.7 536.7 C582.8 537.6 586.4 538.5 590 538.7 C593.6 538.8 596.4 538.1 600 537.5 C603.6 536.9 609.7 535.4 611.7 535" fill="none" stroke="#48385f" stroke-width="1.45" stroke-linejoin="round" stroke-linecap="round" />
<path d="M531.3 510.8 C531.8 511.9 532.7 516 534.2 517.5 C535.6 519 537.9 519.5 540 519.7 C542.1 519.8 544.2 518.6 546.7 518.3 C549.1 518.1 551.2 517.8 554.7 518.3 C558.1 518.9 563.1 520.6 567.5 521.7 C571.9 522.7 576.5 523.6 580.8 524.7 C585.1 525.8 589.6 527.7 593.3 528.3 C597.1 529 600.3 528.9 603.3 528.7 C606.4 528.4 610.3 527 611.7 526.7" fill="none" stroke="#48385f" stroke-width="1.45" stroke-linejoin="round" stroke-linecap="round" />
<path d="M563.3 427.5 C563.6 428.8 563.6 432.6 565 435 C566.4 437.4 568.9 440.8 571.7 441.7 C574.4 442.5 578.6 441.1 581.7 440 C584.7 438.9 586.9 434.7 590 435 C593.1 435.3 596.4 441.1 600 441.7 C603.6 442.2 609.7 438.9 611.7 438.3" fill="none" stroke="#48385f" stroke-width="1.45" stroke-linejoin="round" stroke-linecap="round" />
<path d="M555 427.5 C555.3 428.5 555.7 432.6 556.7 433.3 C557.6 434 559.2 432.2 560.8 431.7 C562.5 431.1 564.6 429.2 566.7 430 C568.8 430.8 570.6 435.7 573.3 436.7 C576.1 437.6 580.6 436.9 583.3 435.8 C586.1 434.7 587.8 431.4 590 430 C592.2 428.6 595.6 427.9 596.7 427.5" fill="none" stroke="#48385f" stroke-width="1.45" stroke-linejoin="round" stroke-linecap="round" />
<path d="M445 548.3 C446.9 548.2 453.1 547.4 456.7 547.5 C460.3 547.6 464.3 548.2 466.7 549.2 C469 550.1 470.4 551.8 470.8 553.3 C471.2 554.9 469.4 557.5 469.2 558.3" fill="none" stroke="#48385f" stroke-width="1.45" stroke-linejoin="round" stroke-linecap="round" />
<path d="M540 558.3 C542.2 557.5 549.2 554.2 553.3 553.3 C557.5 552.5 561.7 552.5 565 553.3 C568.3 554.2 571.9 557.5 573.3 558.3" fill="none" stroke="#48385f" stroke-width="1.45" stroke-linejoin="round" stroke-linecap="round" />
<path d="M583.3 558.3 C584 556.9 585.6 552.1 587.5 550 C589.4 547.9 592.1 546.1 595 545.8 C597.9 545.6 602.2 547.1 605 548.3 C607.8 549.6 610.6 552.5 611.7 553.3" fill="none" stroke="#48385f" stroke-width="1.45" stroke-linejoin="round" stroke-linecap="round" />
<path d="M611.7 490 C610.3 490.2 605.7 490.2 603.3 491.3 C601 492.4 598.3 494.7 597.5 496.7 C596.7 498.7 597.1 501.7 598.3 503.3 C599.6 505 602.8 506.3 605 506.7 C607.2 507 610.6 505.6 611.7 505.3" fill="none" stroke="#48385f" stroke-width="1.45" stroke-linejoin="round" stroke-linecap="round" />
<path d="M549.2 484.7 C550.4 484 553.7 481.5 556.7 480.7 C559.7 479.8 563.3 480.5 567.2 479.7 C571.1 478.9 575.6 476.8 580 475.8 C584.4 474.9 589.4 474.9 593.3 474.2 C597.2 473.5 600.3 472.4 603.3 471.7 C606.4 471 610.3 470.3 611.7 470" fill="none" stroke="#48385f" stroke-width="1.45" stroke-linejoin="round" stroke-linecap="round" />
<path d="M470.8 456.8 L475.5 459.9 L473.7 465 L468 465 L466.2 459.9Z" fill="#8b97d2" fill-opacity="0.35" transform="translate(0.5 1.3)"/><path d="M470.8 456.8 L475.5 459.9 L473.7 465 L468 465 L466.2 459.9Z" fill="#7986c2"/><path d="M468 465 L473.7 465 L473.4 463.5 L468.3 463.5 Z" fill="#5f6cb0"/>
<path d="M483.7 449.8 L487.4 453.9 L484.3 458.4 L478.7 457 L478.4 451.8Z" fill="#8b97d2" fill-opacity="0.35" transform="translate(0.5 1.3)"/><path d="M483.7 449.8 L487.4 453.9 L484.3 458.4 L478.7 457 L478.4 451.8Z" fill="#7986c2"/><path d="M478.7 457 L484.3 458.4 L484 456.9 L479 455.5 Z" fill="#5f6cb0"/>
<path d="M496.5 444.4 L499 449.2 L494.8 452.8 L489.7 450.3 L490.8 445.1Z" fill="#8b97d2" fill-opacity="0.35" transform="translate(0.5 1.3)"/><path d="M496.5 444.4 L499 449.2 L494.8 452.8 L489.7 450.3 L490.8 445.1Z" fill="#7986c2"/><path d="M489.7 450.3 L494.8 452.8 L494.5 451.3 L490 448.8 Z" fill="#5f6cb0"/>
<path d="M475 465.2 L479.7 468.3 L477.9 473.3 L472.1 473.3 L470.3 468.3Z" fill="#8b97d2" fill-opacity="0.35" transform="translate(0.5 1.3)"/><path d="M475 465.2 L479.7 468.3 L477.9 473.3 L472.1 473.3 L470.3 468.3Z" fill="#7986c2"/><path d="M472.1 473.3 L477.9 473.3 L477.6 471.8 L472.4 471.8 Z" fill="#5f6cb0"/>
<path d="M488.7 459.8 L492.4 463.9 L489.3 468.4 L483.7 467 L483.4 461.8Z" fill="#8b97d2" fill-opacity="0.35" transform="translate(0.5 1.3)"/><path d="M488.7 459.8 L492.4 463.9 L489.3 468.4 L483.7 467 L483.4 461.8Z" fill="#7986c2"/><path d="M483.7 467 L489.3 468.4 L489 466.9 L484 465.5 Z" fill="#5f6cb0"/>
<path d="M501.5 453.5 L504 458.3 L499.8 462 L494.7 459.4 L495.8 454.2Z" fill="#8b97d2" fill-opacity="0.35" transform="translate(0.5 1.3)"/><path d="M501.5 453.5 L504 458.3 L499.8 462 L494.7 459.4 L495.8 454.2Z" fill="#7986c2"/><path d="M494.7 459.4 L499.8 462 L499.5 460.5 L495 457.9 Z" fill="#5f6cb0"/>
<path d="M480 475.8 L484.7 478.9 L482.9 484 L477.1 484 L475.3 478.9Z" fill="#8b97d2" fill-opacity="0.35" transform="translate(0.5 1.3)"/><path d="M480 475.8 L484.7 478.9 L482.9 484 L477.1 484 L475.3 478.9Z" fill="#7986c2"/><path d="M477.1 484 L482.9 484 L482.6 482.5 L477.4 482.5 Z" fill="#5f6cb0"/>
<path d="M492.9 468.6 L496.6 472.7 L493.5 477.2 L487.9 475.9 L487.5 470.6Z" fill="#8b97d2" fill-opacity="0.35" transform="translate(0.5 1.3)"/><path d="M492.9 468.6 L496.6 472.7 L493.5 477.2 L487.9 475.9 L487.5 470.6Z" fill="#7986c2"/><path d="M487.9 475.9 L493.5 477.2 L493.2 475.7 L488.2 474.4 Z" fill="#5f6cb0"/>
<path d="M506.5 464 L509 468.8 L504.8 472.5 L499.7 469.9 L500.8 464.7Z" fill="#8b97d2" fill-opacity="0.35" transform="translate(0.5 1.3)"/><path d="M506.5 464 L509 468.8 L504.8 472.5 L499.7 469.9 L500.8 464.7Z" fill="#7986c2"/><path d="M499.7 469.9 L504.8 472.5 L504.5 471 L500 468.4 Z" fill="#5f6cb0"/>
<path d="M563.3 453 L568 456.1 L566.2 461.1 L560.5 461.1 L558.7 456.1Z" fill="#8b97d2" fill-opacity="0.35" transform="translate(0.5 1.3)"/><path d="M563.3 453 L568 456.1 L566.2 461.1 L560.5 461.1 L558.7 456.1Z" fill="#7986c2"/><path d="M560.5 461.1 L566.2 461.1 L565.9 459.6 L560.8 459.6 Z" fill="#5f6cb0"/>
<path d="M577.5 451.5 L581.2 455.5 L578.1 460 L572.6 458.7 L572.2 453.4Z" fill="#8b97d2" fill-opacity="0.35" transform="translate(0.5 1.3)"/><path d="M577.5 451.5 L581.2 455.5 L578.1 460 L572.6 458.7 L572.2 453.4Z" fill="#7986c2"/><path d="M572.6 458.7 L578.1 460 L577.8 458.5 L572.9 457.2 Z" fill="#5f6cb0"/>
<path d="M591.5 447.7 L594 452.5 L589.8 456.1 L584.7 453.6 L585.8 448.4Z" fill="#8b97d2" fill-opacity="0.35" transform="translate(0.5 1.3)"/><path d="M591.5 447.7 L594 452.5 L589.8 456.1 L584.7 453.6 L585.8 448.4Z" fill="#7986c2"/><path d="M584.7 453.6 L589.8 456.1 L589.5 454.6 L585 452.1 Z" fill="#5f6cb0"/>
<path d="M564.7 463.8 L569.3 466.9 L567.5 472 L561.8 472 L560 466.9Z" fill="#8b97d2" fill-opacity="0.35" transform="translate(0.5 1.3)"/><path d="M564.7 463.8 L569.3 466.9 L567.5 472 L561.8 472 L560 466.9Z" fill="#7986c2"/><path d="M561.8 472 L567.5 472 L567.2 470.5 L562.1 470.5 Z" fill="#5f6cb0"/>
<path d="M579.5 461.5 L583.2 465.5 L580.1 470 L574.6 468.7 L574.2 463.4Z" fill="#8b97d2" fill-opacity="0.35" transform="translate(0.5 1.3)"/><path d="M579.5 461.5 L583.2 465.5 L580.1 470 L574.6 468.7 L574.2 463.4Z" fill="#7986c2"/><path d="M574.6 468.7 L580.1 470 L579.8 468.5 L574.9 467.2 Z" fill="#5f6cb0"/>
<path d="M594 460.2 L596.5 465 L592.3 468.6 L587.2 466.1 L588.3 460.9Z" fill="#8b97d2" fill-opacity="0.35" transform="translate(0.5 1.3)"/><path d="M594 460.2 L596.5 465 L592.3 468.6 L587.2 466.1 L588.3 460.9Z" fill="#7986c2"/><path d="M587.2 466.1 L592.3 468.6 L592 467.1 L587.5 464.6 Z" fill="#5f6cb0"/>
<path d="M567.2 475.2 L571.8 478.3 L570 483.3 L564.3 483.3 L562.5 478.3Z" fill="#8b97d2" fill-opacity="0.35" transform="translate(0.5 1.3)"/><path d="M567.2 475.2 L571.8 478.3 L570 483.3 L564.3 483.3 L562.5 478.3Z" fill="#7986c2"/><path d="M564.3 483.3 L570 483.3 L569.7 481.8 L564.6 481.8 Z" fill="#5f6cb0"/>
<path d="M581.2 471.5 L584.9 475.5 L581.8 480 L576.2 478.7 L575.9 473.4Z" fill="#8b97d2" fill-opacity="0.35" transform="translate(0.5 1.3)"/><path d="M581.2 471.5 L584.9 475.5 L581.8 480 L576.2 478.7 L575.9 473.4Z" fill="#7986c2"/><path d="M576.2 478.7 L581.8 480 L581.5 478.5 L576.5 477.2 Z" fill="#5f6cb0"/>
<path d="M595.7 470.2 L598.1 475 L594 478.6 L588.9 476.1 L590 470.9Z" fill="#8b97d2" fill-opacity="0.35" transform="translate(0.5 1.3)"/><path d="M595.7 470.2 L598.1 475 L594 478.6 L588.9 476.1 L590 470.9Z" fill="#7986c2"/><path d="M588.9 476.1 L594 478.6 L593.7 477.1 L589.2 474.6 Z" fill="#5f6cb0"/>
<path d="M463.3 510.5 L468 513.6 L466.2 518.6 L460.5 518.6 L458.7 513.6Z" fill="#8b97d2" fill-opacity="0.35" transform="translate(0.5 1.3)"/><path d="M463.3 510.5 L468 513.6 L466.2 518.6 L460.5 518.6 L458.7 513.6Z" fill="#7986c2"/><path d="M460.5 518.6 L466.2 518.6 L465.9 517.1 L460.8 517.1 Z" fill="#5f6cb0"/>
<path d="M477.5 513.1 L481.2 517.2 L478.1 521.7 L472.6 520.4 L472.2 515.1Z" fill="#8b97d2" fill-opacity="0.35" transform="translate(0.5 1.3)"/><path d="M477.5 513.1 L481.2 517.2 L478.1 521.7 L472.6 520.4 L472.2 515.1Z" fill="#7986c2"/><path d="M472.6 520.4 L478.1 521.7 L477.8 520.2 L472.9 518.9 Z" fill="#5f6cb0"/>
<path d="M492.3 513 L494.8 517.8 L490.6 521.5 L485.6 518.9 L486.6 513.7Z" fill="#8b97d2" fill-opacity="0.35" transform="translate(0.5 1.3)"/><path d="M492.3 513 L494.8 517.8 L490.6 521.5 L485.6 518.9 L486.6 513.7Z" fill="#7986c2"/><path d="M485.6 518.9 L490.6 521.5 L490.3 520 L485.9 517.4 Z" fill="#5f6cb0"/>
<path d="M462.5 521.3 L467.2 524.4 L465.4 529.5 L459.6 529.5 L457.8 524.4Z" fill="#8b97d2" fill-opacity="0.35" transform="translate(0.5 1.3)"/><path d="M462.5 521.3 L467.2 524.4 L465.4 529.5 L459.6 529.5 L457.8 524.4Z" fill="#7986c2"/><path d="M459.6 529.5 L465.4 529.5 L465.1 528 L459.9 528 Z" fill="#5f6cb0"/>
<path d="M476.7 522.3 L480.4 526.4 L477.3 530.9 L471.7 529.5 L471.4 524.3Z" fill="#8b97d2" fill-opacity="0.35" transform="translate(0.5 1.3)"/><path d="M476.7 522.3 L480.4 526.4 L477.3 530.9 L471.7 529.5 L471.4 524.3Z" fill="#7986c2"/><path d="M471.7 529.5 L477.3 530.9 L477 529.4 L472 528 Z" fill="#5f6cb0"/>
<path d="M491 524.7 L493.5 529.5 L489.3 533.1 L484.2 530.6 L485.3 525.4Z" fill="#8b97d2" fill-opacity="0.35" transform="translate(0.5 1.3)"/><path d="M491 524.7 L493.5 529.5 L489.3 533.1 L484.2 530.6 L485.3 525.4Z" fill="#7986c2"/><path d="M484.2 530.6 L489.3 533.1 L489 531.6 L484.5 529.1 Z" fill="#5f6cb0"/>
<path d="M460.8 533.5 L465.5 536.6 L463.7 541.6 L458 541.6 L456.2 536.6Z" fill="#8b97d2" fill-opacity="0.35" transform="translate(0.5 1.3)"/><path d="M460.8 533.5 L465.5 536.6 L463.7 541.6 L458 541.6 L456.2 536.6Z" fill="#7986c2"/><path d="M458 541.6 L463.7 541.6 L463.4 540.1 L458.3 540.1 Z" fill="#5f6cb0"/>
<path d="M475.4 533.1 L479.1 537.2 L476 541.7 L470.4 540.4 L470 535.1Z" fill="#8b97d2" fill-opacity="0.35" transform="translate(0.5 1.3)"/><path d="M475.4 533.1 L479.1 537.2 L476 541.7 L470.4 540.4 L470 535.1Z" fill="#7986c2"/><path d="M470.4 540.4 L476 541.7 L475.7 540.2 L470.7 538.9 Z" fill="#5f6cb0"/>
<path d="M489.8 535.2 L492.3 540 L488.1 543.6 L483.1 541.1 L484.1 535.9Z" fill="#8b97d2" fill-opacity="0.35" transform="translate(0.5 1.3)"/><path d="M489.8 535.2 L492.3 540 L488.1 543.6 L483.1 541.1 L484.1 535.9Z" fill="#7986c2"/><path d="M483.1 541.1 L488.1 543.6 L487.8 542.1 L483.4 539.6 Z" fill="#5f6cb0"/>
<path d="M557.2 502.5 L561.8 505.6 L560 510.6 L554.3 510.6 L552.5 505.6Z" fill="#8b97d2" fill-opacity="0.35" transform="translate(0.5 1.3)"/><path d="M557.2 502.5 L561.8 505.6 L560 510.6 L554.3 510.6 L552.5 505.6Z" fill="#7986c2"/><path d="M554.3 510.6 L560 510.6 L559.7 509.1 L554.6 509.1 Z" fill="#5f6cb0"/>
<path d="M571.2 506.5 L574.9 510.5 L571.8 515 L566.2 513.7 L565.9 508.4Z" fill="#8b97d2" fill-opacity="0.35" transform="translate(0.5 1.3)"/><path d="M571.2 506.5 L574.9 510.5 L571.8 515 L566.2 513.7 L565.9 508.4Z" fill="#7986c2"/><path d="M566.2 513.7 L571.8 515 L571.5 513.5 L566.5 512.2 Z" fill="#5f6cb0"/>
<path d="M585.7 509 L588.1 513.8 L584 517.5 L578.9 514.9 L580 509.7Z" fill="#8b97d2" fill-opacity="0.35" transform="translate(0.5 1.3)"/><path d="M585.7 509 L588.1 513.8 L584 517.5 L578.9 514.9 L580 509.7Z" fill="#7986c2"/><path d="M578.9 514.9 L584 517.5 L583.7 516 L579.2 513.4 Z" fill="#5f6cb0"/>
<path d="M554.7 513.8 L559.3 516.9 L557.5 522 L551.8 522 L550 516.9Z" fill="#8b97d2" fill-opacity="0.35" transform="translate(0.5 1.3)"/><path d="M554.7 513.8 L559.3 516.9 L557.5 522 L551.8 522 L550 516.9Z" fill="#7986c2"/><path d="M551.8 522 L557.5 522 L557.2 520.5 L552.1 520.5 Z" fill="#5f6cb0"/>
<path d="M568.7 517.3 L572.4 521.4 L569.3 525.9 L563.7 524.5 L563.4 519.3Z" fill="#8b97d2" fill-opacity="0.35" transform="translate(0.5 1.3)"/><path d="M568.7 517.3 L572.4 521.4 L569.3 525.9 L563.7 524.5 L563.4 519.3Z" fill="#7986c2"/><path d="M563.7 524.5 L569.3 525.9 L569 524.4 L564 523 Z" fill="#5f6cb0"/>
<path d="M583.2 520.7 L585.6 525.5 L581.5 529.1 L576.4 526.6 L577.5 521.4Z" fill="#8b97d2" fill-opacity="0.35" transform="translate(0.5 1.3)"/><path d="M583.2 520.7 L585.6 525.5 L581.5 529.1 L576.4 526.6 L577.5 521.4Z" fill="#7986c2"/><path d="M576.4 526.6 L581.5 529.1 L581.2 527.6 L576.7 525.1 Z" fill="#5f6cb0"/>
<path d="M552 525.8 L556.7 528.9 L554.9 534 L549.1 534 L547.3 528.9Z" fill="#8b97d2" fill-opacity="0.35" transform="translate(0.5 1.3)"/><path d="M552 525.8 L556.7 528.9 L554.9 534 L549.1 534 L547.3 528.9Z" fill="#7986c2"/><path d="M549.1 534 L554.9 534 L554.6 532.5 L549.4 532.5 Z" fill="#5f6cb0"/>
<path d="M566.5 529 L570.2 533 L567.1 537.5 L561.6 536.2 L561.2 530.9Z" fill="#8b97d2" fill-opacity="0.35" transform="translate(0.5 1.3)"/><path d="M566.5 529 L570.2 533 L567.1 537.5 L561.6 536.2 L561.2 530.9Z" fill="#7986c2"/><path d="M561.6 536.2 L567.1 537.5 L566.8 536 L561.9 534.7 Z" fill="#5f6cb0"/>
<path d="M581 532.7 L583.5 537.5 L579.3 541.1 L574.2 538.6 L575.3 533.4Z" fill="#8b97d2" fill-opacity="0.35" transform="translate(0.5 1.3)"/><path d="M581 532.7 L583.5 537.5 L579.3 541.1 L574.2 538.6 L575.3 533.4Z" fill="#7986c2"/><path d="M574.2 538.6 L579.3 541.1 L579 539.6 L574.5 537.1 Z" fill="#5f6cb0"/>
</g>
<rect x="677.7" y="426.4" width="294.8" height="132.2" fill="#8e9197" filter="url(#fsh)"/>
<rect x="678.7" y="427.4" width="292.4" height="129.6" fill="url(#gbox)"/>
<clipPath id="cle2"><rect x="678.7" y="427.4" width="292.4" height="129.6"/></clipPath>
<g clip-path="url(#cle2)">
<path d="M676.4 434.8 C678.7 435.5 685.6 438.3 689.8 439 C694 439.6 697.2 439.3 701.6 438.5 C706.1 437.7 711.5 435.2 716.4 434.1 C721.4 433 726.8 432.1 731.3 431.9 C735.7 431.6 739.7 431.6 743.1 432.6 C746.6 433.6 749 435.8 752 437.8 C755 439.8 757.9 442.8 760.9 444.4 C763.9 446 767.1 446.8 769.8 447.4 C772.5 448 775.1 448.4 777.2 448.1 C779.3 447.9 780.3 446.2 782.4 445.9 C784.5 445.6 786.4 446.6 789.8 446.4 C793.1 446.1 798.1 444.8 802.4 444.4 C806.6 444.1 812 444.4 815.4 444.4 C818.8 444.5 819.7 444.9 823 444.9 C826.2 444.9 830.4 444.3 834.8 444.4 C839.3 444.5 844.7 445.6 849.6 445.5 C854.6 445.4 859.5 444.7 864.4 443.7 C869.4 442.7 874.8 440.6 879.3 439.3 C883.7 437.9 887.2 436.4 891.1 435.7 C895.1 435 898.8 434.6 903 434.8 C907.2 435 911.6 436.3 916.3 437 C921 437.8 926.2 439.1 931.1 439.3 C936 439.4 941 438.8 945.9 437.8 C950.9 436.8 956.3 434.8 960.7 433.3 C965.2 431.9 970.6 429.9 972.6 429.2" fill="none" stroke="#48385f" stroke-width="1.45" stroke-linejoin="round" stroke-linecap="round" />
<path d="M676.4 472.1 C678.2 471.4 684.1 468.9 686.8 467.4 C689.5 465.9 690.6 464 692.7 463.3 C694.8 462.5 696.2 463.7 699.4 463 C702.6 462.2 707.8 460.2 712 458.8 C716.2 457.5 721.4 456.1 724.6 454.8 C727.8 453.5 728.2 451.9 731.3 451.1 C734.3 450.4 739.7 450.2 743.1 450.4 C746.6 450.5 749.3 450.9 752 451.9 C754.7 452.8 757.2 454.9 759.4 456.3 C761.6 457.7 763.6 458.8 765.3 460 C767.1 461.2 768.3 461.3 769.8 463.3 C771.3 465.2 772.5 469.6 774.2 471.9 C776 474.1 777.4 475.8 780.1 477 C782.9 478.3 786.3 478.8 790.5 479.3 C794.7 479.8 799.9 480 805.3 480 C810.7 480 819 479.5 823 479.3 C826.9 479 826.7 479.3 828.9 478.5 C831.1 477.8 833.7 475.8 836.3 474.8 C838.9 473.8 841.1 473.8 844.4 472.6 C847.8 471.4 852.2 469.2 856.3 467.7 C860.4 466.2 865.6 465.1 868.9 463.7 C872.2 462.3 873.3 460.2 876.3 459.4 C879.3 458.6 882.5 459.4 886.7 458.8 C890.9 458.2 896.5 456.7 901.5 455.9 C906.4 455 912.1 454.2 916.3 453.5 C920.5 452.8 923.5 453.1 926.7 451.7 C929.9 450.3 932.3 447.8 935.6 445.2 C938.8 442.6 942.2 438.8 945.9 436.3 C949.6 433.8 953.3 431.8 957.8 430.4 C962.2 428.9 970.1 428.1 972.6 427.7" fill="none" stroke="#48385f" stroke-width="1.45" stroke-linejoin="round" stroke-linecap="round" />
<path d="M676.4 478.1 C678.7 477.9 686.8 477.7 689.8 477 C692.7 476.4 692 474.8 694.2 474.2 C696.4 473.6 699.3 474.2 702.8 473.3 C706.3 472.4 711.1 470.2 715.3 468.9 C719.4 467.5 724.1 466.4 727.6 465.2 C731 464 732.6 462.1 735.7 461.8 C738.8 461.4 742.6 462.8 746.1 463 C749.5 463.2 753.7 462.2 756.4 463 C759.2 463.7 760.6 465.8 762.4 467.4 C764.1 469 764.8 471.4 766.8 472.6 C768.8 473.8 771.3 475.1 774.2 474.8 C777.2 474.6 781.1 472.5 784.6 471.1 C788 469.7 791.5 467.4 795 466.2 C798.4 465 801.6 464.1 805.3 463.9 C809 463.6 814.2 464.6 817.2 464.7 C820.1 464.8 821 465.2 823 464.4 C824.9 463.7 826.4 462.8 828.9 460.3 C831.4 457.8 834.3 452.9 837.8 449.6 C841.2 446.4 845.2 443.5 849.6 440.7 C854.1 438 859.5 435.3 864.4 433.3 C869.4 431.4 875.3 430 879.3 428.9 C883.2 427.8 886.7 427 888.1 426.7" fill="none" stroke="#48385f" stroke-width="1.45" stroke-linejoin="round" stroke-linecap="round" />
<path d="M676.4 488.1 C680.6 488.4 692.5 489.8 701.6 489.6 C710.8 489.5 721.4 488 731.3 487.4 C741.1 486.8 751 486.2 760.9 485.9 C770.8 485.7 781.9 485.4 790.5 485.9 C799.2 486.4 807.3 488 812.7 488.9 C818.1 489.8 819.8 491.1 823 491.1 C826.1 491.1 829.1 490.1 831.9 489 C834.6 488 836.6 485.7 839.3 484.6 C841.9 483.5 844.3 483.2 847.9 482.2 C851.4 481.2 856.2 480 860.3 478.5 C864.3 477 868.7 474.6 872.1 473 C875.6 471.4 877.1 469.6 880.7 468.9 C884.4 468.2 889.4 469.2 894.1 468.9 C898.8 468.5 904.4 468 908.9 466.8 C913.3 465.6 917.3 463.8 920.7 461.8 C924.2 459.8 926.2 456.8 929.6 455 C933.1 453.1 937 452 941.5 450.5 C945.9 449 951.1 447.5 956.3 446.1 C961.5 444.7 969.9 442.9 972.6 442.2" fill="none" stroke="#48385f" stroke-width="1.45" stroke-linejoin="round" stroke-linecap="round" />
<path d="M676.4 546.2 C679.4 545.7 687.6 544.2 694.2 543 C700.9 541.7 709 540.2 716.4 538.5 C723.9 536.8 731.3 534.6 738.7 532.9 C746.1 531.2 753.5 529.5 760.9 528.4 C768.3 527.4 776.9 527.5 783.1 526.7 C789.3 525.9 793.7 525.4 797.9 523.7 C802.1 522 805.6 518.8 808.3 516.3 C811 513.8 812.5 511.1 814.2 508.9 C816 506.7 817.2 504 818.7 503 C820.1 501.9 820.3 503.4 823 502.4 C825.7 501.4 829.1 498.7 834.8 497 C840.5 495.4 849.6 494.3 857 492.6 C864.4 490.9 872.6 488.6 879.3 486.7 C885.9 484.7 891.9 482.8 897 480.7 C902.2 478.7 906.5 475.7 910.4 474.2 C914.2 472.8 916.3 473.2 920 472.1 C923.7 471.1 928.3 469.5 932.6 468.1 C936.9 466.8 942.2 465.5 945.6 464.1 C949.1 462.8 950.8 460.7 953.3 460.3 C955.9 459.9 957.5 460.5 960.7 461.8 C964 463.1 970.6 467.1 972.6 468.1" fill="none" stroke="#48385f" stroke-width="1.45" stroke-linejoin="round" stroke-linecap="round" />
<path d="M676.4 500.7 C678.7 501 686.1 502 689.8 502.4 C693.5 502.7 695.7 503.6 698.7 503 C701.6 502.4 703.9 499.9 707.6 498.8 C711.3 497.7 716.4 496.7 720.9 496.4 C725.3 496.1 730.5 497.5 734.2 497 C737.9 496.5 740.2 493.8 743.1 493.5 C746 493.2 748 494.9 751.7 495.3 C755.4 495.7 760.7 495.6 765 495.9 C769.4 496.1 773.9 496.8 777.6 497 C781.4 497.2 784.2 496.3 787.6 497 C790.9 497.8 793.7 500.2 797.9 501.5 C802.1 502.7 808.6 503.8 812.7 504.4 C816.9 505.1 818 505.4 823 505.2 C827.9 504.9 835.3 503.7 842.2 503 C849.1 502.2 857 501.1 864.4 500.9 C871.9 500.6 879.3 501.2 886.7 501.5 C894.1 501.7 902.7 502.6 908.9 502.4 C915.1 502.1 919.3 501.1 923.7 500 C928.1 498.9 931.9 497.8 935.6 495.6 C939.3 493.3 942.5 489.3 945.9 486.7 C949.4 484 951.9 481.5 956.3 479.6 C960.7 477.6 969.9 475.9 972.6 475.1" fill="none" stroke="#48385f" stroke-width="1.45" stroke-linejoin="round" stroke-linecap="round" />
<path d="M676.4 513.6 C679.4 513.5 687.6 512.6 694.2 512.7 C700.9 512.8 710.3 514.4 716.4 514.2 C722.6 514.1 726.8 513.1 731.3 511.9 C735.7 510.6 739.8 507.3 743.1 506.8 C746.4 506.3 747.8 508.4 751.3 508.9 C754.7 509.4 759.5 509.6 763.9 509.9 C768.2 510.3 773.5 511 777.2 511.1 C780.9 511.2 783.1 509.5 786.1 510.4 C789 511.2 791.8 514.8 795 516.3 C798.2 517.8 801.6 518.4 805.3 519.3 C809 520.1 814.2 520.7 817.2 521.6 C820.1 522.5 821 523.5 823 524.6 C824.9 525.7 826.2 527.1 828.9 528.1 C831.6 529.2 836.3 531.4 839.3 531.1 C842.2 530.9 844.2 529 846.7 526.7 C849.1 524.3 851.3 518.9 854.1 517.2 C856.8 515.5 859.6 516.6 863.3 516.3 C866.9 516 871.7 515.7 876 515.1 C880.3 514.5 885.8 513.5 889.3 512.6 C892.8 511.7 893.8 510.1 897 509.8 C900.3 509.4 904.4 510.8 908.9 510.4 C913.3 510 919.3 509.1 923.7 507.4 C928.1 505.7 931.9 502.4 935.6 500 C939.3 497.6 939.8 494.1 945.9 492.9 C952.1 491.7 968.1 492.9 972.6 492.9" fill="none" stroke="#48385f" stroke-width="1.45" stroke-linejoin="round" stroke-linecap="round" />
<path d="M676.4 518.1 C678.5 518.5 684.5 520.1 688.7 520.7 C692.9 521.4 697.3 521.6 701.6 521.9 C706 522.2 711.3 522.5 715 522.5 C718.7 522.6 721.1 521.3 723.9 522.2 C726.6 523.2 728.5 526.2 731.3 528.1 C734 530.1 736.2 532.7 740.1 534.1 C744.1 535.5 749 536.3 755 536.4 C760.9 536.6 768.5 535.7 775.7 535 C782.9 534.2 791 532.4 797.9 532 C804.8 531.6 813 532.4 817.2 532.6 C821.4 532.7 820 532.8 823 532.9 C825.9 533 830.4 533.1 834.8 533.3 C839.3 533.5 845.9 534.6 849.6 534.1 C853.3 533.5 854.6 530.7 857 529.9 C859.5 529.2 861 529.9 864.4 529.6 C867.9 529.4 873.2 528.9 877.5 528.4 C881.8 528 886.9 527.3 890.4 526.7 C893.9 526 894.9 524.6 898.5 524.6 C902.1 524.6 907.7 526.4 911.9 526.7 C916 526.9 920.2 526.9 923.7 525.9 C927.2 524.9 928.9 522.2 932.6 520.7 C936.3 519.3 939.3 517.9 945.9 517.2 C952.6 516.4 968.1 516.4 972.6 516.3" fill="none" stroke="#48385f" stroke-width="1.45" stroke-linejoin="round" stroke-linecap="round" />
<path d="M806.1 557.8 C807.2 556.5 810.8 552.3 812.7 550.4 C814.7 548.4 816.2 547.1 817.9 545.9 C819.6 544.7 820.1 544 823 543.3 C825.8 542.5 830.4 541.3 834.8 541.5 C839.3 541.7 844.7 543.2 849.6 544.4 C854.6 545.7 859.5 547.7 864.4 548.9 C869.4 550.1 874.3 551.2 879.3 551.9 C884.2 552.5 889.1 552.8 894.1 552.7 C899 552.6 904 552.2 908.9 551.3 C913.8 550.3 919.4 548 923.7 546.8 C928 545.6 931 545.5 934.8 544.1 C938.6 542.8 942.7 540.4 946.7 538.5 C950.6 536.6 955.4 534.6 958.5 532.9 C961.6 531.2 962.8 529.2 965.2 528.4 C967.5 527.7 971.4 528.2 972.6 528.1" fill="none" stroke="#48385f" stroke-width="1.45" stroke-linejoin="round" stroke-linecap="round" />
<path d="M699.4 458.9 L703.6 461.7 L702 466.2 L696.8 466.2 L695.2 461.7Z" fill="#8b97d2" fill-opacity="0.35" transform="translate(0.5 1.3)"/><path d="M699.4 458.9 L703.6 461.7 L702 466.2 L696.8 466.2 L695.2 461.7Z" fill="#7986c2"/><path d="M696.8 466.2 L702 466.2 L701.7 464.7 L697.1 464.7 Z" fill="#5f6cb0"/>
<path d="M713.1 454.9 L716.4 458.6 L713.6 462.6 L708.6 461.4 L708.3 456.7Z" fill="#8b97d2" fill-opacity="0.35" transform="translate(0.5 1.3)"/><path d="M713.1 454.9 L716.4 458.6 L713.6 462.6 L708.6 461.4 L708.3 456.7Z" fill="#7986c2"/><path d="M708.6 461.4 L713.6 462.6 L713.3 461.1 L708.9 459.9 Z" fill="#5f6cb0"/>
<path d="M726.7 451.3 L728.9 455.6 L725.2 458.8 L720.6 456.5 L721.6 451.9Z" fill="#8b97d2" fill-opacity="0.35" transform="translate(0.5 1.3)"/><path d="M726.7 451.3 L728.9 455.6 L725.2 458.8 L720.6 456.5 L721.6 451.9Z" fill="#7986c2"/><path d="M720.6 456.5 L725.2 458.8 L724.9 457.3 L720.9 455 Z" fill="#5f6cb0"/>
<path d="M702.8 469.3 L707 472.1 L705.4 476.6 L700.2 476.6 L698.6 472.1Z" fill="#8b97d2" fill-opacity="0.35" transform="translate(0.5 1.3)"/><path d="M702.8 469.3 L707 472.1 L705.4 476.6 L700.2 476.6 L698.6 472.1Z" fill="#7986c2"/><path d="M700.2 476.6 L705.4 476.6 L705.1 475.1 L700.5 475.1 Z" fill="#5f6cb0"/>
<path d="M716.3 465 L719.7 468.6 L716.9 472.7 L711.9 471.5 L711.5 466.7Z" fill="#8b97d2" fill-opacity="0.35" transform="translate(0.5 1.3)"/><path d="M716.3 465 L719.7 468.6 L716.9 472.7 L711.9 471.5 L711.5 466.7Z" fill="#7986c2"/><path d="M711.9 471.5 L716.9 472.7 L716.6 471.2 L712.2 470 Z" fill="#5f6cb0"/>
<path d="M729.7 461.6 L731.9 465.9 L728.1 469.2 L723.6 466.9 L724.5 462.2Z" fill="#8b97d2" fill-opacity="0.35" transform="translate(0.5 1.3)"/><path d="M729.7 461.6 L731.9 465.9 L728.1 469.2 L723.6 466.9 L724.5 462.2Z" fill="#7986c2"/><path d="M723.6 466.9 L728.1 469.2 L727.8 467.7 L723.9 465.4 Z" fill="#5f6cb0"/>
<path d="M789.8 442.3 L794 445.1 L792.4 449.6 L787.2 449.6 L785.6 445.1Z" fill="#8b97d2" fill-opacity="0.35" transform="translate(0.5 1.3)"/><path d="M789.8 442.3 L794 445.1 L792.4 449.6 L787.2 449.6 L785.6 445.1Z" fill="#7986c2"/><path d="M787.2 449.6 L792.4 449.6 L792.1 448.1 L787.5 448.1 Z" fill="#5f6cb0"/>
<path d="M803.5 440.5 L806.8 444.2 L804 448.2 L799 447 L798.7 442.3Z" fill="#8b97d2" fill-opacity="0.35" transform="translate(0.5 1.3)"/><path d="M803.5 440.5 L806.8 444.2 L804 448.2 L799 447 L798.7 442.3Z" fill="#7986c2"/><path d="M799 447 L804 448.2 L803.7 446.7 L799.3 445.5 Z" fill="#5f6cb0"/>
<path d="M817.5 440.9 L819.7 445.2 L816 448.5 L811.4 446.2 L812.4 441.5Z" fill="#8b97d2" fill-opacity="0.35" transform="translate(0.5 1.3)"/><path d="M817.5 440.9 L819.7 445.2 L816 448.5 L811.4 446.2 L812.4 441.5Z" fill="#7986c2"/><path d="M811.4 446.2 L816 448.5 L815.7 447 L811.7 444.7 Z" fill="#5f6cb0"/>
<path d="M751.7 491.2 L755.9 494 L754.3 498.5 L749.1 498.5 L747.5 494Z" fill="#8b97d2" fill-opacity="0.35" transform="translate(0.5 1.3)"/><path d="M751.7 491.2 L755.9 494 L754.3 498.5 L749.1 498.5 L747.5 494Z" fill="#7986c2"/><path d="M749.1 498.5 L754.3 498.5 L754 497 L749.4 497 Z" fill="#5f6cb0"/>
<path d="M766.1 491.9 L769.4 495.6 L766.7 499.6 L761.7 498.4 L761.3 493.7Z" fill="#8b97d2" fill-opacity="0.35" transform="translate(0.5 1.3)"/><path d="M766.1 491.9 L769.4 495.6 L766.7 499.6 L761.7 498.4 L761.3 493.7Z" fill="#7986c2"/><path d="M761.7 498.4 L766.7 499.6 L766.4 498.1 L762 496.9 Z" fill="#5f6cb0"/>
<path d="M779.7 493.5 L782 497.8 L778.2 501.1 L773.7 498.8 L774.6 494.1Z" fill="#8b97d2" fill-opacity="0.35" transform="translate(0.5 1.3)"/><path d="M779.7 493.5 L782 497.8 L778.2 501.1 L773.7 498.8 L774.6 494.1Z" fill="#7986c2"/><path d="M773.7 498.8 L778.2 501.1 L777.9 499.6 L774 497.3 Z" fill="#5f6cb0"/>
<path d="M751.3 504.8 L755.4 507.6 L753.8 512.2 L748.7 512.2 L747.1 507.6Z" fill="#8b97d2" fill-opacity="0.35" transform="translate(0.5 1.3)"/><path d="M751.3 504.8 L755.4 507.6 L753.8 512.2 L748.7 512.2 L747.1 507.6Z" fill="#7986c2"/><path d="M748.7 512.2 L753.8 512.2 L753.5 510.7 L749 510.7 Z" fill="#5f6cb0"/>
<path d="M764.9 506 L768.2 509.7 L765.5 513.7 L760.5 512.5 L760.1 507.8Z" fill="#8b97d2" fill-opacity="0.35" transform="translate(0.5 1.3)"/><path d="M764.9 506 L768.2 509.7 L765.5 513.7 L760.5 512.5 L760.1 507.8Z" fill="#7986c2"/><path d="M760.5 512.5 L765.5 513.7 L765.2 512.2 L760.8 511 Z" fill="#5f6cb0"/>
<path d="M779.3 507.6 L781.5 511.9 L777.7 515.1 L773.2 512.8 L774.2 508.2Z" fill="#8b97d2" fill-opacity="0.35" transform="translate(0.5 1.3)"/><path d="M779.3 507.6 L781.5 511.9 L777.7 515.1 L773.2 512.8 L774.2 508.2Z" fill="#7986c2"/><path d="M773.2 512.8 L777.7 515.1 L777.4 513.6 L773.5 511.3 Z" fill="#5f6cb0"/>
<path d="M688.7 516.7 L692.9 519.5 L691.3 524 L686.2 524 L684.6 519.5Z" fill="#8b97d2" fill-opacity="0.35" transform="translate(0.5 1.3)"/><path d="M688.7 516.7 L692.9 519.5 L691.3 524 L686.2 524 L684.6 519.5Z" fill="#7986c2"/><path d="M686.2 524 L691.3 524 L691 522.5 L686.5 522.5 Z" fill="#5f6cb0"/>
<path d="M702.7 518 L706 521.7 L703.3 525.7 L698.2 524.5 L697.9 519.8Z" fill="#8b97d2" fill-opacity="0.35" transform="translate(0.5 1.3)"/><path d="M702.7 518 L706 521.7 L703.3 525.7 L698.2 524.5 L697.9 519.8Z" fill="#7986c2"/><path d="M698.2 524.5 L703.3 525.7 L703 524.2 L698.5 523 Z" fill="#5f6cb0"/>
<path d="M717.1 519 L719.3 523.3 L715.5 526.5 L711 524.3 L711.9 519.6Z" fill="#8b97d2" fill-opacity="0.35" transform="translate(0.5 1.3)"/><path d="M717.1 519 L719.3 523.3 L715.5 526.5 L711 524.3 L711.9 519.6Z" fill="#7986c2"/><path d="M711 524.3 L715.5 526.5 L715.2 525 L711.3 522.8 Z" fill="#5f6cb0"/>
<path d="M844.4 468.5 L848.6 471.3 L847 475.9 L841.9 475.9 L840.3 471.3Z" fill="#8b97d2" fill-opacity="0.35" transform="translate(0.5 1.3)"/><path d="M844.4 468.5 L848.6 471.3 L847 475.9 L841.9 475.9 L840.3 471.3Z" fill="#7986c2"/><path d="M841.9 475.9 L847 475.9 L846.7 474.4 L842.2 474.4 Z" fill="#5f6cb0"/>
<path d="M857.4 463.8 L860.7 467.4 L857.9 471.5 L852.9 470.3 L852.6 465.5Z" fill="#8b97d2" fill-opacity="0.35" transform="translate(0.5 1.3)"/><path d="M857.4 463.8 L860.7 467.4 L857.9 471.5 L852.9 470.3 L852.6 465.5Z" fill="#7986c2"/><path d="M852.9 470.3 L857.9 471.5 L857.6 470 L853.2 468.8 Z" fill="#5f6cb0"/>
<path d="M871 460.2 L873.2 464.5 L869.5 467.7 L864.9 465.4 L865.9 460.8Z" fill="#8b97d2" fill-opacity="0.35" transform="translate(0.5 1.3)"/><path d="M871 460.2 L873.2 464.5 L869.5 467.7 L864.9 465.4 L865.9 460.8Z" fill="#7986c2"/><path d="M864.9 465.4 L869.5 467.7 L869.2 466.2 L865.2 463.9 Z" fill="#5f6cb0"/>
<path d="M847.9 478.2 L852 481 L850.4 485.5 L845.3 485.5 L843.7 481Z" fill="#8b97d2" fill-opacity="0.35" transform="translate(0.5 1.3)"/><path d="M847.9 478.2 L852 481 L850.4 485.5 L845.3 485.5 L843.7 481Z" fill="#7986c2"/><path d="M845.3 485.5 L850.4 485.5 L850.1 484 L845.6 484 Z" fill="#5f6cb0"/>
<path d="M861.4 474.6 L864.7 478.3 L861.9 482.3 L856.9 481.1 L856.6 476.4Z" fill="#8b97d2" fill-opacity="0.35" transform="translate(0.5 1.3)"/><path d="M861.4 474.6 L864.7 478.3 L861.9 482.3 L856.9 481.1 L856.6 476.4Z" fill="#7986c2"/><path d="M856.9 481.1 L861.9 482.3 L861.6 480.8 L857.2 479.6 Z" fill="#5f6cb0"/>
<path d="M874.3 469.5 L876.5 473.8 L872.7 477.1 L868.2 474.8 L869.1 470.1Z" fill="#8b97d2" fill-opacity="0.35" transform="translate(0.5 1.3)"/><path d="M874.3 469.5 L876.5 473.8 L872.7 477.1 L868.2 474.8 L869.1 470.1Z" fill="#7986c2"/><path d="M868.2 474.8 L872.7 477.1 L872.4 475.6 L868.5 473.3 Z" fill="#5f6cb0"/>
<path d="M920 468.1 L924.2 470.9 L922.6 475.4 L917.4 475.4 L915.8 470.9Z" fill="#8b97d2" fill-opacity="0.35" transform="translate(0.5 1.3)"/><path d="M920 468.1 L924.2 470.9 L922.6 475.4 L917.4 475.4 L915.8 470.9Z" fill="#7986c2"/><path d="M917.4 475.4 L922.6 475.4 L922.3 473.9 L917.7 473.9 Z" fill="#5f6cb0"/>
<path d="M933.7 464.2 L937 467.9 L934.2 471.9 L929.2 470.7 L928.9 466Z" fill="#8b97d2" fill-opacity="0.35" transform="translate(0.5 1.3)"/><path d="M933.7 464.2 L937 467.9 L934.2 471.9 L929.2 470.7 L928.9 466Z" fill="#7986c2"/><path d="M929.2 470.7 L934.2 471.9 L933.9 470.4 L929.5 469.2 Z" fill="#5f6cb0"/>
<path d="M947.7 460.6 L950 464.9 L946.2 468.2 L941.7 465.9 L942.6 461.2Z" fill="#8b97d2" fill-opacity="0.35" transform="translate(0.5 1.3)"/><path d="M947.7 460.6 L950 464.9 L946.2 468.2 L941.7 465.9 L942.6 461.2Z" fill="#7986c2"/><path d="M941.7 465.9 L946.2 468.2 L945.9 466.7 L942 464.4 Z" fill="#5f6cb0"/>
<path d="M863.3 512.2 L867.4 515 L865.8 519.6 L860.7 519.6 L859.1 515Z" fill="#8b97d2" fill-opacity="0.35" transform="translate(0.5 1.3)"/><path d="M863.3 512.2 L867.4 515 L865.8 519.6 L860.7 519.6 L859.1 515Z" fill="#7986c2"/><path d="M860.7 519.6 L865.8 519.6 L865.5 518.1 L861 518.1 Z" fill="#5f6cb0"/>
<path d="M877.1 511.2 L880.4 514.9 L877.6 518.9 L872.6 517.7 L872.3 512.9Z" fill="#8b97d2" fill-opacity="0.35" transform="translate(0.5 1.3)"/><path d="M877.1 511.2 L880.4 514.9 L877.6 518.9 L872.6 517.7 L872.3 512.9Z" fill="#7986c2"/><path d="M872.6 517.7 L877.6 518.9 L877.3 517.4 L872.9 516.2 Z" fill="#5f6cb0"/>
<path d="M891.4 509 L893.7 513.3 L889.9 516.6 L885.4 514.3 L886.3 509.6Z" fill="#8b97d2" fill-opacity="0.35" transform="translate(0.5 1.3)"/><path d="M891.4 509 L893.7 513.3 L889.9 516.6 L885.4 514.3 L886.3 509.6Z" fill="#7986c2"/><path d="M885.4 514.3 L889.9 516.6 L889.6 515.1 L885.7 512.8 Z" fill="#5f6cb0"/>
<path d="M864.4 525.6 L868.6 528.4 L867 532.9 L861.9 532.9 L860.3 528.4Z" fill="#8b97d2" fill-opacity="0.35" transform="translate(0.5 1.3)"/><path d="M864.4 525.6 L868.6 528.4 L867 532.9 L861.9 532.9 L860.3 528.4Z" fill="#7986c2"/><path d="M861.9 532.9 L867 532.9 L866.7 531.4 L862.2 531.4 Z" fill="#5f6cb0"/>
<path d="M878.6 524.5 L881.9 528.2 L879.1 532.2 L874.1 531 L873.8 526.3Z" fill="#8b97d2" fill-opacity="0.35" transform="translate(0.5 1.3)"/><path d="M878.6 524.5 L881.9 528.2 L879.1 532.2 L874.1 531 L873.8 526.3Z" fill="#7986c2"/><path d="M874.1 531 L879.1 532.2 L878.8 530.7 L874.4 529.5 Z" fill="#5f6cb0"/>
<path d="M892.5 523.1 L894.7 527.4 L890.9 530.7 L886.4 528.4 L887.3 523.7Z" fill="#8b97d2" fill-opacity="0.35" transform="translate(0.5 1.3)"/><path d="M892.5 523.1 L894.7 527.4 L890.9 530.7 L886.4 528.4 L887.3 523.7Z" fill="#7986c2"/><path d="M886.4 528.4 L890.9 530.7 L890.6 529.2 L886.7 526.9 Z" fill="#5f6cb0"/>
<path d="M934.8 540.1 L939 542.9 L937.4 547.4 L932.2 547.4 L930.6 542.9Z" fill="#8b97d2" fill-opacity="0.35" transform="translate(0.5 1.3)"/><path d="M934.8 540.1 L939 542.9 L937.4 547.4 L932.2 547.4 L930.6 542.9Z" fill="#7986c2"/><path d="M932.2 547.4 L937.4 547.4 L937.1 545.9 L932.5 545.9 Z" fill="#5f6cb0"/>
<path d="M947.8 534.6 L951.1 538.3 L948.3 542.3 L943.3 541.1 L942.9 536.4Z" fill="#8b97d2" fill-opacity="0.35" transform="translate(0.5 1.3)"/><path d="M947.8 534.6 L951.1 538.3 L948.3 542.3 L943.3 541.1 L942.9 536.4Z" fill="#7986c2"/><path d="M943.3 541.1 L948.3 542.3 L948 540.8 L943.6 539.6 Z" fill="#5f6cb0"/>
<path d="M960.6 529.3 L962.8 533.6 L959.1 536.9 L954.5 534.6 L955.5 529.9Z" fill="#8b97d2" fill-opacity="0.35" transform="translate(0.5 1.3)"/><path d="M960.6 529.3 L962.8 533.6 L959.1 536.9 L954.5 534.6 L955.5 529.9Z" fill="#7986c2"/><path d="M954.5 534.6 L959.1 536.9 L958.8 535.4 L954.8 533.1 Z" fill="#5f6cb0"/>
<path d="M729 449.6 C732.7 439.3 746.1 434.1 757.6 436.6 L760.1 431.9 L769.5 443.7 L753.9 447 L755.7 441.9 C746.1 440 735.7 443.7 729 449.6 Z" fill="url(#garr1)"/>
<path d="M804.6 440.7 C814.2 434.8 825.9 436.3 839.3 444.4 L843.7 443.7 L844.9 461.8 L829.2 454.4 L834.1 450.4 C825.9 443.7 818.7 440 804.6 440.7 Z" fill="url(#garr2)"/>
</g>
<text x="763.5" y="464.3" font-size="16.5" text-anchor="start" fill="#d8242b" >Slip</text>
<text x="847" y="453.8" font-size="17" text-anchor="start" fill="#d8242b" >Reconstruct</text>
<text x="643" y="482.8" font-size="14.6" text-anchor="middle" fill="#1a1a1a" >Stretch</text>
<text x="643.3" y="518.5" font-size="14.6" text-anchor="middle" fill="#1a1a1a" >Release</text>
<path d="M619 491.2 H661" stroke="#111" stroke-width="1.7"/><path d="M668.5 491.2 L660 487.6 L660 494.8Z" fill="#111"/>
<path d="M668.5 500.4 H626" stroke="#111" stroke-width="1.7"/><path d="M619 500.4 L627.5 496.8 L627.5 504Z" fill="#111"/>
<path d="M499.4 588.1 C503.3 588.6 512.6 590.1 522.6 590.9 C532.6 591.8 541.7 592.7 559.6 593.3 C577.5 594 606.6 594.3 630 595 C653.4 595.7 671.7 597.4 700 597.4 C728.3 597.4 774.1 595.8 800 595 C825.9 594.2 836.4 593.9 855.6 592.8 C874.7 591.6 904.9 588.9 914.8 588.1 L927.8 628 C915.7 627 876.9 624 855.6 622.4 C834.3 620.9 825.9 619.3 800 618.7 C774.1 618.1 728.3 619 700 619 C671.7 619 650.3 618.4 630 618.7 C609.7 619 596 619.6 578.1 620.6 C560.2 621.5 538 623.1 522.6 624.6 C507.2 626.2 491.7 629 485.6 629.8 Z" fill="#70c2e2"/>
<path d="M485.6 627.6 C491.7 626.8 507.2 624 522.6 622.4 C538 620.9 560.2 619.3 578.1 618.4 C596 617.4 609.7 616.8 630 616.5 C650.3 616.2 671.7 616.8 700 616.8 C728.3 616.8 774.1 615.9 800 616.5 C825.9 617.1 834.3 618.7 855.6 620.2 C876.9 621.8 915.7 624.8 927.8 625.8 L927.8 628 C915.7 627 876.9 624 855.6 622.4 C834.3 620.9 825.9 619.3 800 618.7 C774.1 618.1 728.3 619 700 619 C671.7 619 650.3 618.4 630 618.7 C609.7 619 596 619.6 578.1 620.6 C560.2 621.5 538 623.1 522.6 624.6 C507.2 626.2 491.7 629 485.6 629.8 Z" fill="#5cb6dd"/>
<path d="M450.4 627 L485.6 624.6 L485.6 630.2 L453.1 632 Z" fill="#62bbe0"/>
<path d="M927.8 624.6 L963 627.6 L961.1 631.7 L927.8 629.8 Z" fill="#62bbe0"/>
<path d="M452.2 578.3 L499.4 578.3 L485.6 619.6 L434.1 619.6 Z" fill="url(#gclamp)"/>
<path d="M434.1 619.6 L485.6 619.6 L485.6 626.1 L434.1 626.1 Z" fill="#ededed"/>
<path d="M499.4 578.3 L499.4 584.4 L485.6 626.1 L485.6 619.6 Z" fill="#c4c4c4"/>
<path d="M434.1 628 L450.4 626.7 L453.1 632 L434.1 632 Z" fill="#d9d9d9"/>
<path d="M434.1 631.7 L485.6 630.2 L485.6 640.6 L434.1 640.6 Z" fill="#e9e9e9"/>
<path d="M914.8 578.3 L963 578.3 L980.6 619.6 L930.6 619.6 Z" fill="url(#gclamp)"/>
<path d="M930.6 619.6 L980.6 619.6 L980.6 626.1 L930.6 626.1 Z" fill="#ededed"/>
<path d="M914.8 578.3 L914.8 584.4 L927.8 624.6 L930.6 619.6 Z" fill="#c4c4c4"/>
<path d="M963 627.6 L980.6 628 L980.6 632 L961.1 631.7 Z" fill="#d9d9d9"/>
<path d="M927.8 629.8 L980.6 631.3 L980.6 640.6 L927.8 640.6 Z" fill="#e9e9e9"/>
<path d="M524.6 557.5 V606" stroke="#111" stroke-width="1.6" fill="none"/>
<path d="M821.7 557 V583 H698.7 V606" stroke="#111" stroke-width="1.6" fill="none"/>
<circle cx="524.6" cy="606.1" r="6.3" fill="none" stroke="#111" stroke-width="1" stroke-dasharray="2.6 1.6"/>
<circle cx="524.6" cy="606.1" r="2" fill="#111"/>
<circle cx="698.7" cy="606.1" r="6.3" fill="none" stroke="#111" stroke-width="1" stroke-dasharray="2.6 1.6"/>
<circle cx="698.7" cy="606.1" r="2" fill="#111"/>
<defs><linearGradient id="gcy" x1="0" y1="0" x2="0" y2="1"><stop offset="0" stop-color="#1fb4d9"/><stop offset="1" stop-color="#19b3d8"/></linearGradient><linearGradient id="grul" x1="0" y1="0" x2="0" y2="1"><stop offset="0" stop-color="#a0a5aa"/><stop offset="0.25" stop-color="#adb1b5"/><stop offset="0.75" stop-color="#adb1b5"/><stop offset="1" stop-color="#9ea3a9"/></linearGradient><linearGradient id="grul2" x1="0" y1="0" x2="0" y2="1"><stop offset="0" stop-color="#cdd8e1"/><stop offset="0.12" stop-color="#b0b8c2"/><stop offset="0.35" stop-color="#c3c8ce"/><stop offset="0.75" stop-color="#c0c5cb"/><stop offset="1" stop-color="#adb4be"/></linearGradient><radialGradient id="gglv" cx="0.5" cy="0.5" r="0.7"><stop offset="0" stop-color="#7ad6ee"/><stop offset="1" stop-color="#45c1e4"/></radialGradient></defs>
<text x="101.5" y="696.8" font-size="30" text-anchor="start" fill="#111" >f</text>
<rect x="134.6" y="698" width="113.9" height="97.3" fill="url(#gcy)"/>
<rect x="164.3" y="731.2" width="51.3" height="14.4" fill="#3cc0c8" fill-opacity="0.55"/>
<path d="M185.6 731.2 V745.6 M198.8 731.2 V745.6" stroke="#16333d" stroke-width="0.8"/>
<rect x="134.6" y="749" width="113.9" height="39.6" fill="url(#grul)"/>
<rect x="134.6" y="788.6" width="113.9" height="6.7" fill="#1899c4"/>
<clipPath id="cf134"><rect x="134.6" y="749" width="113.9" height="40"/></clipPath>
<g clip-path="url(#cf134)">
<path d="M135.5 750 v10.5 M135.5 788 v-10.5 M136.8 750 v7 M136.8 788 v-7 M138.2 750 v7 M138.2 788 v-7 M139.5 750 v7 M139.5 788 v-7 M140.9 750 v7 M140.9 788 v-7 M142.2 750 v10.5 M142.2 788 v-10.5 M143.5 750 v7 M143.5 788 v-7 M144.9 750 v7 M144.9 788 v-7 M146.2 750 v7 M146.2 788 v-7 M147.6 750 v7 M147.6 788 v-7 M148.9 750 v10.5 M148.9 788 v-10.5 M150.2 750 v7 M150.2 788 v-7 M151.6 750 v7 M151.6 788 v-7 M152.9 750 v7 M152.9 788 v-7 M154.3 750 v7 M154.3 788 v-7 M155.6 750 v10.5 M155.6 788 v-10.5 M156.9 750 v7 M156.9 788 v-7 M158.3 750 v7 M158.3 788 v-7 M159.6 750 v7 M159.6 788 v-7 M161 750 v7 M161 788 v-7 M162.3 750 v10.5 M162.3 788 v-10.5 M163.6 750 v7 M163.6 788 v-7 M165 750 v7 M165 788 v-7 M166.3 750 v7 M166.3 788 v-7 M167.7 750 v7 M167.7 788 v-7 M169 750 v10.5 M169 788 v-10.5 M170.3 750 v7 M170.3 788 v-7 M171.7 750 v7 M171.7 788 v-7 M173 750 v7 M173 788 v-7 M174.4 750 v7 M174.4 788 v-7 M175.7 750 v10.5 M175.7 788 v-10.5 M177 750 v7 M177 788 v-7 M178.4 750 v7 M178.4 788 v-7 M179.7 750 v7 M179.7 788 v-7 M181.1 750 v7 M181.1 788 v-7 M182.4 750 v10.5 M182.4 788 v-10.5 M183.7 750 v7 M183.7 788 v-7 M185.1 750 v7 M185.1 788 v-7 M186.4 750 v7 M186.4 788 v-7 M187.8 750 v7 M187.8 788 v-7 M189.1 750 v10.5 M189.1 788 v-10.5 M190.4 750 v7 M190.4 788 v-7 M191.8 750 v7 M191.8 788 v-7 M193.1 750 v7 M193.1 788 v-7 M194.5 750 v7 M194.5 788 v-7 M195.8 750 v10.5 M195.8 788 v-10.5 M197.1 750 v7 M197.1 788 v-7 M198.5 750 v7 M198.5 788 v-7 M199.8 750 v7 M199.8 788 v-7 M201.2 750 v7 M201.2 788 v-7 M202.5 750 v10.5 M202.5 788 v-10.5 M203.8 750 v7 M203.8 788 v-7 M205.2 750 v7 M205.2 788 v-7 M206.5 750 v7 M206.5 788 v-7 M207.9 750 v7 M207.9 788 v-7 M209.2 750 v10.5 M209.2 788 v-10.5 M210.5 750 v7 M210.5 788 v-7 M211.9 750 v7 M211.9 788 v-7 M213.2 750 v7 M213.2 788 v-7 M214.6 750 v7 M214.6 788 v-7 M215.9 750 v10.5 M215.9 788 v-10.5 M217.2 750 v7 M217.2 788 v-7 M218.6 750 v7 M218.6 788 v-7 M219.9 750 v7 M219.9 788 v-7 M221.3 750 v7 M221.3 788 v-7 M222.6 750 v10.5 M222.6 788 v-10.5 M223.9 750 v7 M223.9 788 v-7 M225.3 750 v7 M225.3 788 v-7 M226.6 750 v7 M226.6 788 v-7 M228 750 v7 M228 788 v-7 M229.3 750 v10.5 M229.3 788 v-10.5 M230.6 750 v7 M230.6 788 v-7 M232 750 v7 M232 788 v-7 M233.3 750 v7 M233.3 788 v-7 M234.7 750 v7 M234.7 788 v-7 M236 750 v10.5 M236 788 v-10.5 M237.3 750 v7 M237.3 788 v-7 M238.7 750 v7 M238.7 788 v-7 M240 750 v7 M240 788 v-7 M241.4 750 v7 M241.4 788 v-7 M242.7 750 v10.5 M242.7 788 v-10.5 M244 750 v7 M244 788 v-7 M245.4 750 v7 M245.4 788 v-7 M246.7 750 v7 M246.7 788 v-7 M248.1 750 v7 M248.1 788 v-7" stroke="#5a6066" stroke-width="0.55" stroke-opacity="0.3" fill="none"/>
</g>
<text x="137.4" y="772" font-size="7" text-anchor="middle" fill="#4c5157" >8</text>
<text x="150.8" y="772" font-size="7" text-anchor="middle" fill="#4c5157" >9</text>
<text x="165.7" y="772" font-size="8.6" text-anchor="middle" fill="#a8325a" >20</text>
<text x="177.7" y="772" font-size="7" text-anchor="middle" fill="#4c5157" >1</text>
<text x="191.1" y="772" font-size="7" text-anchor="middle" fill="#4c5157" >2</text>
<text x="204.5" y="772" font-size="7" text-anchor="middle" fill="#4c5157" >3</text>
<text x="217.9" y="772" font-size="7" text-anchor="middle" fill="#4c5157" >4</text>
<text x="231.3" y="772" font-size="7" text-anchor="middle" fill="#4c5157" >5</text>
<text x="244.8" y="772" font-size="7" text-anchor="middle" fill="#4c5157" >6</text>
<text x="191" y="715" font-size="15.2" text-anchor="middle" fill="#ffffff" >Original</text>
<rect x="257.8" y="698" width="117.1" height="97.3" fill="url(#gcy)"/>
<rect x="288.6" y="734" width="53.2" height="13.9" fill="#3cc0c8" fill-opacity="0.55"/>
<path d="M309.4 734 V747.9 M322.8 734 V747.9" stroke="#16333d" stroke-width="0.8"/>
<rect x="257.8" y="749" width="117.1" height="39.6" fill="url(#grul)"/>
<rect x="257.8" y="788.6" width="117.1" height="6.7" fill="#1899c4"/>
<clipPath id="cf257"><rect x="257.8" y="749" width="117.1" height="40"/></clipPath>
<g clip-path="url(#cf257)">
<path d="M258.7 750 v10.5 M258.7 788 v-10.5 M260 750 v7 M260 788 v-7 M261.4 750 v7 M261.4 788 v-7 M262.7 750 v7 M262.7 788 v-7 M264.1 750 v7 M264.1 788 v-7 M265.4 750 v10.5 M265.4 788 v-10.5 M266.7 750 v7 M266.7 788 v-7 M268.1 750 v7 M268.1 788 v-7 M269.4 750 v7 M269.4 788 v-7 M270.8 750 v7 M270.8 788 v-7 M272.1 750 v10.5 M272.1 788 v-10.5 M273.4 750 v7 M273.4 788 v-7 M274.8 750 v7 M274.8 788 v-7 M276.1 750 v7 M276.1 788 v-7 M277.5 750 v7 M277.5 788 v-7 M278.8 750 v10.5 M278.8 788 v-10.5 M280.1 750 v7 M280.1 788 v-7 M281.5 750 v7 M281.5 788 v-7 M282.8 750 v7 M282.8 788 v-7 M284.2 750 v7 M284.2 788 v-7 M285.5 750 v10.5 M285.5 788 v-10.5 M286.8 750 v7 M286.8 788 v-7 M288.2 750 v7 M288.2 788 v-7 M289.5 750 v7 M289.5 788 v-7 M290.9 750 v7 M290.9 788 v-7 M292.2 750 v10.5 M292.2 788 v-10.5 M293.5 750 v7 M293.5 788 v-7 M294.9 750 v7 M294.9 788 v-7 M296.2 750 v7 M296.2 788 v-7 M297.6 750 v7 M297.6 788 v-7 M298.9 750 v10.5 M298.9 788 v-10.5 M300.2 750 v7 M300.2 788 v-7 M301.6 750 v7 M301.6 788 v-7 M302.9 750 v7 M302.9 788 v-7 M304.3 750 v7 M304.3 788 v-7 M305.6 750 v10.5 M305.6 788 v-10.5 M306.9 750 v7 M306.9 788 v-7 M308.3 750 v7 M308.3 788 v-7 M309.6 750 v7 M309.6 788 v-7 M311 750 v7 M311 788 v-7 M312.3 750 v10.5 M312.3 788 v-10.5 M313.6 750 v7 M313.6 788 v-7 M315 750 v7 M315 788 v-7 M316.3 750 v7 M316.3 788 v-7 M317.7 750 v7 M317.7 788 v-7 M319 750 v10.5 M319 788 v-10.5 M320.3 750 v7 M320.3 788 v-7 M321.7 750 v7 M321.7 788 v-7 M323 750 v7 M323 788 v-7 M324.4 750 v7 M324.4 788 v-7 M325.7 750 v10.5 M325.7 788 v-10.5 M327 750 v7 M327 788 v-7 M328.4 750 v7 M328.4 788 v-7 M329.7 750 v7 M329.7 788 v-7 M331.1 750 v7 M331.1 788 v-7 M332.4 750 v10.5 M332.4 788 v-10.5 M333.7 750 v7 M333.7 788 v-7 M335.1 750 v7 M335.1 788 v-7 M336.4 750 v7 M336.4 788 v-7 M337.8 750 v7 M337.8 788 v-7 M339.1 750 v10.5 M339.1 788 v-10.5 M340.4 750 v7 M340.4 788 v-7 M341.8 750 v7 M341.8 788 v-7 M343.1 750 v7 M343.1 788 v-7 M344.5 750 v7 M344.5 788 v-7 M345.8 750 v10.5 M345.8 788 v-10.5 M347.1 750 v7 M347.1 788 v-7 M348.5 750 v7 M348.5 788 v-7 M349.8 750 v7 M349.8 788 v-7 M351.2 750 v7 M351.2 788 v-7 M352.5 750 v10.5 M352.5 788 v-10.5 M353.8 750 v7 M353.8 788 v-7 M355.2 750 v7 M355.2 788 v-7 M356.5 750 v7 M356.5 788 v-7 M357.9 750 v7 M357.9 788 v-7 M359.2 750 v10.5 M359.2 788 v-10.5 M360.5 750 v7 M360.5 788 v-7 M361.9 750 v7 M361.9 788 v-7 M363.2 750 v7 M363.2 788 v-7 M364.6 750 v7 M364.6 788 v-7 M365.9 750 v10.5 M365.9 788 v-10.5 M367.2 750 v7 M367.2 788 v-7 M368.6 750 v7 M368.6 788 v-7 M369.9 750 v7 M369.9 788 v-7 M371.3 750 v7 M371.3 788 v-7 M372.6 750 v10.5 M372.6 788 v-10.5 M373.9 750 v7 M373.9 788 v-7" stroke="#5a6066" stroke-width="0.55" stroke-opacity="0.3" fill="none"/>
</g>
<text x="260.6" y="772" font-size="7" text-anchor="middle" fill="#4c5157" >8</text>
<text x="274" y="772" font-size="7" text-anchor="middle" fill="#4c5157" >9</text>
<text x="288.9" y="772" font-size="8.6" text-anchor="middle" fill="#a8325a" >20</text>
<text x="300.9" y="772" font-size="7" text-anchor="middle" fill="#4c5157" >1</text>
<text x="314.3" y="772" font-size="7" text-anchor="middle" fill="#4c5157" >2</text>
<text x="327.7" y="772" font-size="7" text-anchor="middle" fill="#4c5157" >3</text>
<text x="341.1" y="772" font-size="7" text-anchor="middle" fill="#4c5157" >4</text>
<text x="354.5" y="772" font-size="7" text-anchor="middle" fill="#4c5157" >5</text>
<text x="368" y="772" font-size="7" text-anchor="middle" fill="#4c5157" >6</text>
<text x="315.8" y="715" font-size="15.2" text-anchor="middle" fill="#ffffff" >Rest for 0.5 h</text>
<rect x="134.6" y="799.3" width="240.3" height="92.1" fill="#21b6dc"/>
<rect x="134.6" y="884" width="240.3" height="7.4" fill="#199fd0"/>
<rect x="163.6" y="836.5" width="176" height="47.5" fill="url(#grul2)"/>
<clipPath id="cfb"><rect x="163.6" y="838" width="176" height="46"/></clipPath><g clip-path="url(#cfb)">
<path d="M166 840.5 v9.5 M166 883 v-9.5 M167.6 840.5 v6 M167.6 883 v-6 M169.1 840.5 v6 M169.1 883 v-6 M170.7 840.5 v6 M170.7 883 v-6 M172.2 840.5 v6 M172.2 883 v-6 M173.8 840.5 v9.5 M173.8 883 v-9.5 M175.4 840.5 v6 M175.4 883 v-6 M176.9 840.5 v6 M176.9 883 v-6 M178.5 840.5 v6 M178.5 883 v-6 M180 840.5 v6 M180 883 v-6 M181.6 840.5 v9.5 M181.6 883 v-9.5 M183.2 840.5 v6 M183.2 883 v-6 M184.7 840.5 v6 M184.7 883 v-6 M186.3 840.5 v6 M186.3 883 v-6 M187.8 840.5 v6 M187.8 883 v-6 M189.4 840.5 v9.5 M189.4 883 v-9.5 M191 840.5 v6 M191 883 v-6 M192.5 840.5 v6 M192.5 883 v-6 M194.1 840.5 v6 M194.1 883 v-6 M195.6 840.5 v6 M195.6 883 v-6 M197.2 840.5 v9.5 M197.2 883 v-9.5 M198.8 840.5 v6 M198.8 883 v-6 M200.3 840.5 v6 M200.3 883 v-6 M201.9 840.5 v6 M201.9 883 v-6 M203.4 840.5 v6 M203.4 883 v-6 M205 840.5 v9.5 M205 883 v-9.5 M206.6 840.5 v6 M206.6 883 v-6 M208.1 840.5 v6 M208.1 883 v-6 M209.7 840.5 v6 M209.7 883 v-6 M211.2 840.5 v6 M211.2 883 v-6 M212.8 840.5 v9.5 M212.8 883 v-9.5 M214.4 840.5 v6 M214.4 883 v-6 M215.9 840.5 v6 M215.9 883 v-6 M217.5 840.5 v6 M217.5 883 v-6 M219 840.5 v6 M219 883 v-6 M220.6 840.5 v9.5 M220.6 883 v-9.5 M222.2 840.5 v6 M222.2 883 v-6 M223.7 840.5 v6 M223.7 883 v-6 M225.3 840.5 v6 M225.3 883 v-6 M226.8 840.5 v6 M226.8 883 v-6 M228.4 840.5 v9.5 M228.4 883 v-9.5 M230 840.5 v6 M230 883 v-6 M231.5 840.5 v6 M231.5 883 v-6 M233.1 840.5 v6 M233.1 883 v-6 M234.6 840.5 v6 M234.6 883 v-6 M236.2 840.5 v9.5 M236.2 883 v-9.5 M237.8 840.5 v6 M237.8 883 v-6 M239.3 840.5 v6 M239.3 883 v-6 M240.9 840.5 v6 M240.9 883 v-6 M242.4 840.5 v6 M242.4 883 v-6 M244 840.5 v9.5 M244 883 v-9.5 M245.6 840.5 v6 M245.6 883 v-6 M247.1 840.5 v6 M247.1 883 v-6 M248.7 840.5 v6 M248.7 883 v-6 M250.2 840.5 v6 M250.2 883 v-6 M251.8 840.5 v9.5 M251.8 883 v-9.5 M253.4 840.5 v6 M253.4 883 v-6 M254.9 840.5 v6 M254.9 883 v-6 M256.5 840.5 v6 M256.5 883 v-6 M258 840.5 v6 M258 883 v-6 M259.6 840.5 v9.5 M259.6 883 v-9.5 M261.2 840.5 v6 M261.2 883 v-6 M262.7 840.5 v6 M262.7 883 v-6 M264.3 840.5 v6 M264.3 883 v-6 M265.8 840.5 v6 M265.8 883 v-6 M267.4 840.5 v9.5 M267.4 883 v-9.5 M269 840.5 v6 M269 883 v-6 M270.5 840.5 v6 M270.5 883 v-6 M272.1 840.5 v6 M272.1 883 v-6 M273.6 840.5 v6 M273.6 883 v-6 M275.2 840.5 v9.5 M275.2 883 v-9.5 M276.8 840.5 v6 M276.8 883 v-6 M278.3 840.5 v6 M278.3 883 v-6 M279.9 840.5 v6 M279.9 883 v-6 M281.4 840.5 v6 M281.4 883 v-6 M283 840.5 v9.5 M283 883 v-9.5 M284.6 840.5 v6 M284.6 883 v-6 M286.1 840.5 v6 M286.1 883 v-6 M287.7 840.5 v6 M287.7 883 v-6 M289.2 840.5 v6 M289.2 883 v-6 M290.8 840.5 v9.5 M290.8 883 v-9.5 M292.4 840.5 v6 M292.4 883 v-6 M293.9 840.5 v6 M293.9 883 v-6 M295.5 840.5 v6 M295.5 883 v-6 M297 840.5 v6 M297 883 v-6 M298.6 840.5 v9.5 M298.6 883 v-9.5 M300.2 840.5 v6 M300.2 883 v-6 M301.7 840.5 v6 M301.7 883 v-6 M303.3 840.5 v6 M303.3 883 v-6 M304.8 840.5 v6 M304.8 883 v-6 M306.4 840.5 v9.5 M306.4 883 v-9.5 M308 840.5 v6 M308 883 v-6 M309.5 840.5 v6 M309.5 883 v-6 M311.1 840.5 v6 M311.1 883 v-6 M312.6 840.5 v6 M312.6 883 v-6 M314.2 840.5 v9.5 M314.2 883 v-9.5 M315.8 840.5 v6 M315.8 883 v-6 M317.3 840.5 v6 M317.3 883 v-6 M318.9 840.5 v6 M318.9 883 v-6 M320.4 840.5 v6 M320.4 883 v-6 M322 840.5 v9.5 M322 883 v-9.5 M323.6 840.5 v6 M323.6 883 v-6 M325.1 840.5 v6 M325.1 883 v-6 M326.7 840.5 v6 M326.7 883 v-6 M328.2 840.5 v6 M328.2 883 v-6 M329.8 840.5 v9.5 M329.8 883 v-9.5 M331.4 840.5 v6 M331.4 883 v-6 M332.9 840.5 v6 M332.9 883 v-6 M334.5 840.5 v6 M334.5 883 v-6 M336 840.5 v6 M336 883 v-6 M337.6 840.5 v9.5 M337.6 883 v-9.5" stroke="#5d646c" stroke-width="0.55" stroke-opacity="0.36" fill="none"/>
</g>
<text x="178.6" y="865" font-size="7.8" text-anchor="middle" fill="#555b62" >9</text>
<text x="194.2" y="865" font-size="9.4" text-anchor="middle" fill="#b23a62" >20</text>
<text x="209.8" y="865" font-size="7.8" text-anchor="middle" fill="#555b62" >1</text>
<text x="225.4" y="865" font-size="7.8" text-anchor="middle" fill="#555b62" >2</text>
<text x="241" y="865" font-size="7.8" text-anchor="middle" fill="#555b62" >3</text>
<text x="256.6" y="865" font-size="7.8" text-anchor="middle" fill="#555b62" >4</text>
<text x="272.2" y="865" font-size="7.8" text-anchor="middle" fill="#555b62" >5</text>
<text x="287.8" y="865" font-size="7.8" text-anchor="middle" fill="#555b62" >6</text>
<text x="303.4" y="865" font-size="7.8" text-anchor="middle" fill="#555b62" >7</text>
<text x="319" y="865" font-size="7.8" text-anchor="middle" fill="#555b62" >8</text>
<text x="334.6" y="865" font-size="7.8" text-anchor="middle" fill="#555b62" >9</text>
<path d="M214.3 832 l3.2 0.4 l-0.6 4.6 l-1.6 0 Z" fill="#1b2a33"/>
<path d="M296.5 831.5 l3.4 0.6 l-0.8 5 l-1.8 -0.8 Z" fill="#1b2a33"/>
<clipPath id="cfg"><rect x="134.6" y="799.3" width="240.3" height="92.1"/></clipPath><g clip-path="url(#cfg)">
<path d="M131.9 797.8 C135.5 798.1 149.2 797.1 153.5 799.9 C157.8 802.6 157.2 809.6 157.6 814.1 C158 818.5 155.6 822.7 155.9 826.5 C156.1 830.4 157.9 834.2 159.4 837.2 C160.9 840.1 163.6 841.2 164.7 844.3 C165.9 847.4 166.3 850.7 166.5 855.6 C166.8 860.4 166.6 868.3 166.2 873.3 C165.8 878.4 165.6 882.3 164.1 885.8 C162.7 889.2 163 892.4 157.6 894.1 C152.2 895.7 136.1 895.3 131.9 895.6 Z" fill="#62cdea"/>
<path d="M131.9 808.1 C133.8 809.1 140.5 811.1 143.7 814.1 C146.9 817 150 821 151.1 825.9 C152.2 830.9 149.9 837.8 150.5 843.7 C151.1 849.6 154.3 855.6 154.7 861.5 C155.1 867.4 154.4 873.8 152.9 879.3 C151.4 884.7 149.3 891.4 145.8 894.1 C142.3 896.8 134.2 895.3 131.9 895.6 Z" fill="#8adcf3" fill-opacity="0.75"/>
<path d="M377.2 812.6 C375.1 813.7 369.3 816.6 364.4 819.4 C359.6 822.2 352.3 825.7 348.1 829.5 C344 833.3 341.6 837.6 339.6 842.2 C337.5 846.8 336.5 851.9 336 857 C335.5 862.2 335.6 868.4 336.6 873.3 C337.6 878.3 339 883.2 341.9 886.7 C344.8 890.1 348.2 892.6 354.1 894.1 C360 895.6 373.3 895.3 377.2 895.6 Z" fill="#58c8e9"/>
<path d="M377.2 824.4 C374.8 825.7 366.8 828.6 363 831.9 C359.1 835.1 356 839 354.1 843.7 C352.1 848.4 351.4 854.6 351.1 860 C350.9 865.4 351.1 871.4 352.6 876.3 C354.1 881.2 355.9 886.4 360 889.6 C364.1 892.8 374.3 894.6 377.2 895.6 Z" fill="#82d9f2" fill-opacity="0.75"/>
</g>
<text x="252.2" y="815" font-size="15.2" text-anchor="middle" fill="#ffffff" >Stretched to 500%</text>
<path d="M185.6 788.6 h6.8 v4 h3.4 l-6.8 6.4 l-6.8 -6.4 h3.4 Z" fill="#f0222c"/>
<path d="M311.1 799.3 h6.8 v-5 h3.4 l-6.8 -6.4 l-6.8 6.4 h3.4 Z" fill="#f0222c"/>
<text x="406.5" y="698" font-size="30" text-anchor="start" fill="#111" >g</text>
<clipPath id="clipg"><rect x="446.5" y="701.6" width="221.1" height="176.8"/></clipPath><g clip-path="url(#clipg)">
<path d="M446.5 864.6 L448 864.6 L449.4 864.6 L450.9 864.6 L452.4 864.6 L453.9 864.6 L455.3 864.6 L456.8 864.6 L458.3 864.7 L459.8 864.7 L461.2 864.7 L462.7 864.7 L464.2 864.7 L465.7 864.7 L467.1 864.8 L468.6 864.8 L470.1 864.8 L471.6 864.8 L473 864.7 L474.5 864.7 L476 864.7 L477.5 864.7 L478.9 864.6 L480.4 864.6 L481.9 864.5 L483.4 864.5 L484.8 864.4 L486.3 864.3 L487.8 864.2 L489.2 864.1 L490.7 864 L492.2 863.9 L493.7 863.8 L495.1 863.6 L496.6 863.5 L498.1 863.3 L499.6 863.2 L501 863 L502.5 862.8 L504 862.6 L505.5 862.4 L506.9 862.2 L508.4 862 L509.9 861.7 L511.4 861.5 L512.8 861.2 L514.3 860.9 L515.8 860.6 L517.3 860.3 L518.7 859.9 L520.2 859.5 L521.7 859.1 L523.1 858.7 L524.6 858.3 L526.1 857.8 L527.6 857.3 L529 856.7 L530.5 856.2 L532 855.6 L533.5 855 L534.9 854.3 L536.4 853.6 L537.9 852.9 L539.4 852.2 L540.8 851.4 L542.3 850.7 L543.8 849.8 L545.3 849 L546.7 848.2 L548.2 847.3 L549.7 846.4 L551.2 845.5 L552.6 844.6 L554.1 843.7 L555.6 842.7 L557 841.8 L558.5 840.9 L560 840 L561.5 839.1 L562.9 838.2 L564.4 837.4 L565.9 836.6 L567.4 835.8 L568.8 835 L570.3 834.3 L571.8 833.7 L573.3 833.1 L574.7 832.6 L576.2 832.1 L577.7 831.8 L579.2 831.5 L580.6 831.3 L582.1 831.1 L583.6 831.1 L585.1 831.1 L586.5 831.2 L588 831.4 L589.5 831.7 L591 832.1 L592.4 832.5 L593.9 833 L595.4 833.6 L596.8 834.2 L598.3 834.9 L599.8 835.6 L601.3 836.4 L602.7 837.2 L604.2 838 L605.7 838.8 L607.2 839.7 L608.6 840.6 L610.1 841.5 L611.6 842.4 L613.1 843.3 L614.5 844.2 L616 845.1 L617.5 846 L619 846.9 L620.4 847.7 L621.9 848.6 L623.4 849.4 L624.9 850.2 L626.3 851 L627.8 851.7 L629.3 852.4 L630.8 853.1 L632.2 853.8 L633.7 854.4 L635.2 855 L636.6 855.6 L638.1 856.1 L639.6 856.6 L641.1 857.1 L642.5 857.6 L644 858 L645.5 858.4 L647 858.8 L648.4 859.1 L649.9 859.4 L651.4 859.7 L652.9 860 L654.3 860.2 L655.8 860.5 L657.3 860.7 L658.8 860.9 L660.2 861.1 L661.7 861.2 L663.2 861.4 L664.7 861.5 L666.1 861.7 L667.6 861.8" fill="none" stroke="#8fbad9" stroke-width="1.4" stroke-linejoin="round" stroke-linecap="round" />
<path d="M446.5 862.6 L448 862.6 L449.4 862.6 L450.9 862.6 L452.4 862.6 L453.9 862.6 L455.3 862.7 L456.8 862.7 L458.3 862.7 L459.8 862.7 L461.2 862.7 L462.7 862.7 L464.2 862.7 L465.7 862.7 L467.1 862.7 L468.6 862.7 L470.1 862.7 L471.6 862.7 L473 862.7 L474.5 862.6 L476 862.6 L477.5 862.5 L478.9 862.4 L480.4 862.4 L481.9 862.3 L483.4 862.2 L484.8 862.1 L486.3 861.9 L487.8 861.8 L489.2 861.6 L490.7 861.5 L492.2 861.3 L493.7 861.1 L495.1 860.9 L496.6 860.7 L498.1 860.4 L499.6 860.2 L501 859.9 L502.5 859.6 L504 859.3 L505.5 859 L506.9 858.6 L508.4 858.3 L509.9 857.9 L511.4 857.5 L512.8 857 L514.3 856.5 L515.8 856 L517.3 855.5 L518.7 854.9 L520.2 854.3 L521.7 853.7 L523.1 853 L524.6 852.2 L526.1 851.5 L527.6 850.7 L529 849.8 L530.5 848.9 L532 847.9 L533.5 846.9 L534.9 845.9 L536.4 844.8 L537.9 843.7 L539.4 842.5 L540.8 841.3 L542.3 840.1 L543.8 838.8 L545.3 837.5 L546.7 836.2 L548.2 834.8 L549.7 833.5 L551.2 832.1 L552.6 830.7 L554.1 829.3 L555.6 827.9 L557 826.6 L558.5 825.2 L560 823.9 L561.5 822.6 L562.9 821.4 L564.4 820.2 L565.9 819 L567.4 818 L568.8 817 L570.3 816.1 L571.8 815.3 L573.3 814.6 L574.7 814.1 L576.2 813.6 L577.7 813.3 L579.2 813.1 L580.6 813 L582.1 813 L583.6 813.2 L585.1 813.5 L586.5 813.9 L588 814.5 L589.5 815.1 L591 815.9 L592.4 816.7 L593.9 817.7 L595.4 818.7 L596.8 819.8 L598.3 820.9 L599.8 822.1 L601.3 823.4 L602.7 824.6 L604.2 826 L605.7 827.3 L607.2 828.6 L608.6 830 L610.1 831.3 L611.6 832.7 L613.1 834 L614.5 835.3 L616 836.6 L617.5 837.9 L619 839.1 L620.4 840.3 L621.9 841.5 L623.4 842.6 L624.9 843.7 L626.3 844.7 L627.8 845.7 L629.3 846.7 L630.8 847.6 L632.2 848.5 L633.7 849.3 L635.2 850 L636.6 850.8 L638.1 851.4 L639.6 852.1 L641.1 852.7 L642.5 853.2 L644 853.7 L645.5 854.2 L647 854.7 L648.4 855.1 L649.9 855.4 L651.4 855.8 L652.9 856.1 L654.3 856.4 L655.8 856.7 L657.3 856.9 L658.8 857.1 L660.2 857.3 L661.7 857.5 L663.2 857.7 L664.7 857.8 L666.1 857.9 L667.6 858" fill="none" stroke="#f2c983" stroke-width="1.5" stroke-linejoin="round" stroke-linecap="round" />
<path d="M446.5 857.9 L448 857.9 L449.4 857.9 L450.9 857.9 L452.4 857.9 L453.9 857.9 L455.3 857.9 L456.8 858 L458.3 858 L459.8 858 L461.2 858 L462.7 858.1 L464.2 858.1 L465.7 858.1 L467.1 858.1 L468.6 858.1 L470.1 858.1 L471.6 858 L473 858 L474.5 858 L476 857.9 L477.5 857.8 L478.9 857.7 L480.4 857.6 L481.9 857.5 L483.4 857.3 L484.8 857.2 L486.3 857 L487.8 856.8 L489.2 856.6 L490.7 856.3 L492.2 856.1 L493.7 855.8 L495.1 855.5 L496.6 855.2 L498.1 854.9 L499.6 854.5 L501 854.1 L502.5 853.7 L504 853.3 L505.5 852.8 L506.9 852.3 L508.4 851.8 L509.9 851.2 L511.4 850.6 L512.8 849.9 L514.3 849.3 L515.8 848.5 L517.3 847.7 L518.7 846.9 L520.2 846 L521.7 845 L523.1 844 L524.6 842.9 L526.1 841.7 L527.6 840.5 L529 839.2 L530.5 837.9 L532 836.4 L533.5 834.9 L534.9 833.3 L536.4 831.6 L537.9 829.9 L539.4 828.1 L540.8 826.2 L542.3 824.3 L543.8 822.3 L545.3 820.3 L546.7 818.2 L548.2 816.1 L549.7 813.9 L551.2 811.8 L552.6 809.6 L554.1 807.4 L555.6 805.2 L557 803 L558.5 800.9 L560 798.8 L561.5 796.7 L562.9 794.7 L564.4 792.8 L565.9 791 L567.4 789.4 L568.8 787.8 L570.3 786.4 L571.8 785.1 L573.3 784 L574.7 783.1 L576.2 782.4 L577.7 781.9 L579.2 781.5 L580.6 781.4 L582.1 781.5 L583.6 781.8 L585.1 782.3 L586.5 782.9 L588 783.8 L589.5 784.9 L591 786.1 L592.4 787.4 L593.9 788.9 L595.4 790.6 L596.8 792.3 L598.3 794.2 L599.8 796.1 L601.3 798.1 L602.7 800.1 L604.2 802.2 L605.7 804.4 L607.2 806.5 L608.6 808.7 L610.1 810.8 L611.6 812.9 L613.1 815 L614.5 817.1 L616 819.1 L617.5 821.1 L619 823.1 L620.4 824.9 L621.9 826.8 L623.4 828.5 L624.9 830.2 L626.3 831.8 L627.8 833.3 L629.3 834.8 L630.8 836.2 L632.2 837.5 L633.7 838.7 L635.2 839.9 L636.6 841 L638.1 842 L639.6 843 L641.1 843.9 L642.5 844.7 L644 845.5 L645.5 846.2 L647 846.8 L648.4 847.4 L649.9 848 L651.4 848.5 L652.9 848.9 L654.3 849.3 L655.8 849.7 L657.3 850.1 L658.8 850.4 L660.2 850.7 L661.7 850.9 L663.2 851.2 L664.7 851.4 L666.1 851.6 L667.6 851.7" fill="none" stroke="#b54a45" stroke-width="1.6" stroke-linejoin="round" stroke-linecap="round" />
<path d="M446.5 857.9 L448 857.9 L449.4 857.9 L450.9 857.9 L452.4 857.9 L453.9 857.9 L455.3 857.9 L456.8 858 L458.3 858 L459.8 858 L461.2 858 L462.7 858.1 L464.2 858.1 L465.7 858.1 L467.1 858.1 L468.6 858.1 L470.1 858.1 L471.6 858 L473 858 L474.5 858 L476 857.9 L477.5 857.8 L478.9 857.7 L480.4 857.6 L481.9 857.5 L483.4 857.3 L484.8 857.2 L486.3 857 L487.8 856.8 L489.2 856.6 L490.7 856.3 L492.2 856.1 L493.7 855.8 L495.1 855.5 L496.6 855.2 L498.1 854.9 L499.6 854.5 L501 854.1 L502.5 853.7 L504 853.3 L505.5 852.8 L506.9 852.3 L508.4 851.8 L509.9 851.2 L511.4 850.6 L512.8 849.9 L514.3 849.3 L515.8 848.5 L517.3 847.7 L518.7 846.9 L520.2 846 L521.7 845 L523.1 844 L524.6 842.9 L526.1 841.7 L527.6 840.5 L529 839.2 L530.5 837.9 L532 836.4 L533.5 834.9 L534.9 833.3 L536.4 831.6 L537.9 829.9 L539.4 828.1 L540.8 826.2 L542.3 824.3 L543.8 822.3 L545.3 820.3 L546.7 818.2 L548.2 816.1 L549.7 813.9 L551.2 811.8 L552.6 809.6 L554.1 807.4 L555.6 805.2 L557 803 L558.5 800.9 L560 798.8 L561.5 796.7 L562.9 794.7 L564.4 792.8 L565.9 791 L567.4 789.4 L568.8 787.8 L570.3 786.4 L571.8 785.1 L573.3 784 L574.7 783.1 L576.2 782.4 L577.7 781.9 L579.2 781.5 L580.6 781.4 L582.1 781.5 L583.6 781.8 L585.1 782.3 L586.5 782.9 L588 783.8 L589.5 784.9 L591 786.1 L592.4 787.4 L593.9 788.9 L595.4 790.6 L596.8 792.3 L598.3 794.2 L599.8 796.1 L601.3 798.1 L602.7 800.1 L604.2 802.2 L605.7 804.4 L607.2 806.5 L608.6 808.7 L610.1 810.8 L611.6 812.9 L613.1 815 L614.5 817.1 L616 819.1 L617.5 821.1 L619 823.1 L620.4 824.9 L621.9 826.8 L623.4 828.5 L624.9 830.2 L626.3 831.8 L627.8 833.3 L629.3 834.8 L630.8 836.2 L632.2 837.5 L633.7 838.7 L635.2 839.9 L636.6 841 L638.1 842 L639.6 843 L641.1 843.9 L642.5 844.7 L644 845.5 L645.5 846.2 L647 846.8 L648.4 847.4 L649.9 848 L651.4 848.5 L652.9 848.9 L654.3 849.3 L655.8 849.7 L657.3 850.1 L658.8 850.4 L660.2 850.7 L661.7 850.9 L663.2 851.2 L664.7 851.4 L666.1 851.6 L667.6 851.7" fill="none" stroke="#3a4a8c" stroke-width="1.8" stroke-linejoin="round" stroke-linecap="round" />
</g>
<rect x="446.5" y="701.6" width="221.1" height="176.8" fill="none" stroke="#222" stroke-width="1.3"/>
<line x1="446.5" y1="878.4" x2="446.5" y2="882.4" stroke="#222" stroke-width="1.2"/>
<text x="446.5" y="897" font-size="14.5" text-anchor="middle" fill="#222" >5</text>
<line x1="520.2" y1="878.4" x2="520.2" y2="882.4" stroke="#222" stroke-width="1.2"/>
<text x="520.2" y="897" font-size="14.5" text-anchor="middle" fill="#222" >10</text>
<line x1="593.9" y1="878.4" x2="593.9" y2="882.4" stroke="#222" stroke-width="1.2"/>
<text x="593.9" y="897" font-size="14.5" text-anchor="middle" fill="#222" >15</text>
<line x1="667.6" y1="878.4" x2="667.6" y2="882.4" stroke="#222" stroke-width="1.2"/>
<text x="667.6" y="897" font-size="14.5" text-anchor="middle" fill="#222" >20</text>
<line x1="483.4" y1="878.4" x2="483.4" y2="880.6" stroke="#222" stroke-width="1"/>
<line x1="557" y1="878.4" x2="557" y2="880.6" stroke="#222" stroke-width="1"/>
<line x1="630.8" y1="878.4" x2="630.8" y2="880.6" stroke="#222" stroke-width="1"/>
<text x="557" y="921" font-size="14.5" text-anchor="middle" fill="#222" >q (nm<tspan dy="-5.2" font-size="9">−1</tspan><tspan dy="5.2">)</tspan></text>
<text x="436.8" y="790.6" font-size="15.3" text-anchor="middle" fill="#222" transform="rotate(-90 436.8 790.6)" >Normalized Intensity</text>
<line x1="542" y1="710.7" x2="568.7" y2="710.7" stroke="#b54a45" stroke-width="1.3"/>
<text x="575.2" y="714.8" font-size="11.7" text-anchor="start" fill="#1a1a1a" >Original</text>
<line x1="542" y1="725.2" x2="568.7" y2="725.2" stroke="#f2c983" stroke-width="1.3"/>
<text x="575.2" y="729.3" font-size="11.7" text-anchor="start" fill="#1a1a1a" >Stretch to 300%</text>
<line x1="542" y1="739.3" x2="568.7" y2="739.3" stroke="#8fbad9" stroke-width="1.3"/>
<text x="575.2" y="743.4" font-size="11.7" text-anchor="start" fill="#1a1a1a" >Stretch to 600%</text>
<line x1="542" y1="753.6" x2="568.7" y2="753.6" stroke="#3a4a8c" stroke-width="1.3"/>
<text x="575.2" y="757.7" font-size="11.7" text-anchor="start" fill="#1a1a1a" >Recovery to 0%</text>
<defs><radialGradient id="gwax"><stop offset="0" stop-color="#141a6e"/><stop offset="0.75" stop-color="#0c1256"/><stop offset="1" stop-color="#090d42"/></radialGradient><linearGradient id="gcb" x1="0" y1="1" x2="0" y2="0"><stop offset="0" stop-color="#2030a0"/><stop offset="0.4" stop-color="#30c0a0"/><stop offset="0.7" stop-color="#e0d040"/><stop offset="1" stop-color="#d03030"/></linearGradient></defs>
<rect x="453.9" y="706.7" width="37.6" height="33" fill="url(#gwax)"/>
<rect x="491.8" y="706.7" width="0.7" height="33" fill="url(#gcb)" opacity="0.7"/>
<circle cx="472.4" cy="725.2" r="9.2" fill="none" stroke="#2444b8" stroke-width="6.5" stroke-opacity="0.35"/>
<circle cx="472.4" cy="725.2" r="9.2" fill="none" stroke="#2fd08c" stroke-width="3.0" stroke-opacity="0.95"/>
<circle cx="472.4" cy="725.2" r="0.8" fill="#e8e8ff"/>
<text x="472.1" y="750.6" font-size="11.6" text-anchor="middle" fill="#1a1a1a" >Original</text>
<rect x="500.6" y="706.7" width="38.3" height="33" fill="url(#gwax)"/>
<rect x="539.2" y="706.7" width="0.7" height="33" fill="url(#gcb)" opacity="0.7"/>
<circle cx="519.5" cy="725.2" r="9.2" fill="none" stroke="#2444b8" stroke-width="6.5" stroke-opacity="0.35"/>
<circle cx="519.5" cy="725.2" r="9.2" fill="none" stroke="#4a9ee6" stroke-width="2.6" stroke-opacity="0.8"/>
<circle cx="519.5" cy="725.2" r="0.8" fill="#e8e8ff"/>
<text x="520.6" y="750.6" font-size="11.6" text-anchor="middle" fill="#1a1a1a" >300%</text>
<rect x="453.9" y="754.8" width="37.6" height="32.9" fill="url(#gwax)"/>
<rect x="491.8" y="754.8" width="0.7" height="32.9" fill="url(#gcb)" opacity="0.7"/>
<circle cx="472.4" cy="773.2" r="9.2" fill="none" stroke="#2444b8" stroke-width="6.5" stroke-opacity="0.35"/>
<circle cx="472.4" cy="773.2" r="9.2" fill="none" stroke="#3d72d6" stroke-width="2.4" stroke-opacity="0.7"/>
<circle cx="472.4" cy="773.2" r="0.8" fill="#e8e8ff"/>
<text x="472.9" y="803.2" font-size="11.6" text-anchor="middle" fill="#1a1a1a" >600%</text>
<rect x="500.6" y="754.8" width="38.3" height="32.9" fill="url(#gwax)"/>
<rect x="539.2" y="754.8" width="0.7" height="32.9" fill="url(#gcb)" opacity="0.7"/>
<circle cx="519.5" cy="773.2" r="9.2" fill="none" stroke="#2444b8" stroke-width="6.5" stroke-opacity="0.35"/>
<circle cx="519.5" cy="773.2" r="9.2" fill="none" stroke="#2fd08c" stroke-width="3.0" stroke-opacity="0.95"/>
<circle cx="519.5" cy="773.2" r="0.8" fill="#e8e8ff"/>
<text x="518.8" y="803.2" font-size="11.6" text-anchor="middle" fill="#1a1a1a" >Recovery</text>
<text x="693" y="696.2" font-size="30" text-anchor="start" fill="#111" >h</text>
<path d="M819.7 697.2 L886.5 768.3 L871.4 861.2 L784.1 839 L736.4 762.9Z" fill="#ee6b76" fill-opacity="0.68" stroke="#e0505c" stroke-opacity="0.55" stroke-width="0.8"/>
<path d="M819.7 699.1 L864.5 775.4 L851.9 834.4 L766 863.9 L752 768Z" fill="#fcedbd" fill-opacity="0.6"/>
<path d="M819.7 725.5 L823.4 788.8 L840.6 818.8 L786.3 835.9 L787.7 779.6Z" fill="#9fe0dc" fill-opacity="0.5"/>
<path d="M819.7 783.3 L908.4 761.2 L823.1 794.7 L804.4 811 L801.4 784.1Z" fill="#a9c4ec" fill-opacity="0.8" stroke="#9bb6e0" stroke-width="0.5"/>
<path d="M819.7 766 L842.6 782.6 L833.8 809.5 L805.6 809.5 L796.8 782.6Z" fill="none" stroke="#5a5048" stroke-opacity="0.42" stroke-width="0.6"/>
<path d="M819.7 741.9 L865.4 775.1 L848 828.9 L791.4 828.9 L774 775.1Z" fill="none" stroke="#5a5048" stroke-opacity="0.42" stroke-width="0.6"/>
<path d="M819.7 717.9 L888.3 767.7 L862.1 848.4 L777.3 848.4 L751.1 767.7Z" fill="none" stroke="#5a5048" stroke-opacity="0.42" stroke-width="0.6"/>
<path d="M819.7 693.8 L911.2 760.3 L876.2 867.8 L763.2 867.8 L728.2 760.3Z" fill="none" stroke="#333" stroke-width="0.8"/>
<line x1="819.7" y1="790" x2="819.7" y2="693.8" stroke="#5a5048" stroke-opacity="0.42" stroke-width="0.6"/>
<line x1="819.7" y1="790" x2="911.2" y2="760.3" stroke="#5a5048" stroke-opacity="0.42" stroke-width="0.6"/>
<line x1="819.7" y1="790" x2="876.2" y2="867.8" stroke="#5a5048" stroke-opacity="0.42" stroke-width="0.6"/>
<line x1="819.7" y1="790" x2="763.2" y2="867.8" stroke="#5a5048" stroke-opacity="0.42" stroke-width="0.6"/>
<line x1="819.7" y1="790" x2="728.2" y2="760.3" stroke="#5a5048" stroke-opacity="0.42" stroke-width="0.6"/>
<text x="818.7" y="696.1" font-size="7" text-anchor="end" fill="#333" >80</text>
<text x="818.7" y="720.1" font-size="7" text-anchor="end" fill="#8a6f6a" >60</text>
<text x="818.7" y="744.2" font-size="7" text-anchor="end" fill="#8a6f6a" >40</text>
<text x="818.7" y="768.2" font-size="7" text-anchor="end" fill="#8a6f6a" >20</text>
<text x="911" y="758" font-size="7" text-anchor="end" fill="#333" >2000</text>
<text x="868" y="772" font-size="7" text-anchor="end" fill="#555" >1500</text>
<text x="725.5" y="770.5" font-size="7" text-anchor="start" fill="#333" >1.5</text>
<text x="757" y="779" font-size="7" text-anchor="start" fill="#8a6f6a" >1.0</text>
<text x="786" y="788" font-size="7" text-anchor="start" fill="#8a6f6a" >0.5</text>
<text x="866" y="847.5" font-size="7" text-anchor="start" fill="#444" >500</text>
<text x="788" y="844.5" font-size="7" text-anchor="start" fill="#8a6f6a" >100</text>
<text x="814" y="786" font-size="6" text-anchor="start" fill="#8a8fb0" >1000</text>
<text x="820" y="684.5" font-size="14.8" text-anchor="middle" fill="#1a1a1a" >Stress (MPa)</text>
<text x="936.5" y="744.3" font-size="14.8" text-anchor="middle" fill="#1a1a1a" >Strain (%)</text>
<text x="717.5" y="732.5" font-size="14.8" text-anchor="middle" fill="#1a1a1a" >Ture stress</text>
<text x="721" y="748.2" font-size="14.8" text-anchor="middle" fill="#1a1a1a" >(GPa)</text>
<text x="753" y="884.5" font-size="14.8" text-anchor="middle" fill="#1a1a1a" >Fracture energy</text>
<text x="749" y="905" font-size="14.8" text-anchor="middle" fill="#1a1a1a" >(KJ m<tspan dy="-5.3" font-size="9.2">−2</tspan><tspan dy="5.3">)</tspan></text>
<text x="888" y="884.5" font-size="14.8" text-anchor="middle" fill="#1a1a1a" >Toughness</text>
<text x="892" y="905" font-size="14.8" text-anchor="middle" fill="#1a1a1a" >(MJ m<tspan dy="-5.3" font-size="9.2">−3</tspan><tspan dy="5.3">)</tspan></text>
<rect x="907.5" y="796" width="20.5" height="11.5" fill="#f0949c" stroke="#e8707c" stroke-width="0.8"/>
<text x="931.5" y="806.2" font-size="14.3" text-anchor="start" fill="#d8414c" >This work</text>
<rect x="907.5" y="815" width="20.5" height="11.5" fill="#b9ebe8" stroke="#7fd0cc" stroke-width="0.8"/>
<text x="931.5" y="825.2" font-size="14.3" text-anchor="start" fill="#1a1a1a" >[41]</text>
<rect x="907.5" y="833.5" width="20.5" height="11.5" fill="#fdf3d6" stroke="#fdf3d6" stroke-width="0.8"/>
<text x="931.5" y="843.7" font-size="14.3" text-anchor="start" fill="#1a1a1a" >[15]</text>
<rect x="907.5" y="852" width="20.5" height="11.5" fill="#c6d8f3" stroke="#b0c6ea" stroke-width="0.8"/>
<text x="931.5" y="862.2" font-size="14.3" text-anchor="start" fill="#1a1a1a" >[44]</text>
</svg>
<div class="cap" style="top:934.85px;letter-spacing:0.310px"><b style="letter-spacing:-0.05px">Figure 3.</b>&nbsp; Mechanical properties of the PFPU elastomers. a) Stress–strain curves of the PFPU elastomers. b) True stress–strain curves of the PFPU</div>
<div class="cap" style="top:952.25px;letter-spacing:0.331px">elastomers. c) Comparison of strength and toughness of the PFPU elastomers with previously reported materials. d) Cyclic tensile loading-unloading</div>
<div class="cap" style="top:969.65px;letter-spacing:0.361px">curves of the P<sub>1</sub>F<sub>1</sub>PU elastomer at various strains. e) Schematic illustration of hydrogen bonding “slip-reconstruction” in molecular chains during the</div>
<div class="cap" style="top:987.05px;letter-spacing:0.372px">stretching process of the PFPU elastomers. Tensile recovery performance image of the P<sub>1</sub>F<sub>1</sub>PU elastomer. f) Photographs of the original, stretched,</div>
<div class="cap" style="top:1004.45px;letter-spacing:0.362px">and recovered P<sub>1</sub>F<sub>1</sub>PU elastomer. g) 1D WAXS spectra of P<sub>1</sub>F<sub>1</sub>PU elastomer under stretching. Inset: 2D WAXS patterns of P<sub>1</sub>F<sub>1</sub>PU elastomer under</div>
<div class="cap last" style="top:1021.85px;letter-spacing:0.363px">stretching. h) Comparison of comprehensive performance of the P<sub>1</sub>F<sub>1</sub>PU elastomers.</div>
<div class="bl" style="left:88px;top:1071.60px;letter-spacing:0.192px;">found new binding sites between molecular chains after relative</div>
<div class="bl" style="left:88px;top:1091.77px;letter-spacing:0.035px;">slip, quickly reconstructing with nearby sites to generate new hy-</div>
<div class="bl" style="left:88px;top:1111.94px;letter-spacing:0.306px;">drogen bond crosslinking. This process ensures the integrity of</div>
<div class="bl" style="left:88px;top:1132.11px;letter-spacing:0.078px;">the polymer cross-linked network (Figure <a>3e</a>). After stretching to</div>
<div class="bl" style="left:88px;top:1152.28px;letter-spacing:0.067px;">500% strain, P<sub>1</sub>F<sub>1</sub>PU can recover its original length at room tem-</div>
<div class="bl last" style="left:88px;top:1172.45px;letter-spacing:0.137px;">perature within 0.5 h (Figure <a>3f</a>).</div>
<div class="bl" style="left:88px;top:1192.62px;letter-spacing:0.400px;padding-left:16px;">To assess PFPU’s fatigue resistance, 100 cycles of load-to-</div>
<div class="bl" style="left:88px;top:1212.79px;letter-spacing:-0.022px;">unload tests were performed under 500% strain (Figure <a>S21</a>, Sup-</div>
<div class="bl" style="left:88px;top:1232.96px;letter-spacing:0.181px;">porting Information). The area of the hysteresis loop reflects re-</div>
<div class="bl" style="left:88px;top:1253.13px;letter-spacing:0.254px;">versibility of the dynamic hydrogen bond and the network’s re-</div>
<div class="bl" style="left:88px;top:1273.30px;letter-spacing:0.110px;">covery capability. P<sub>1</sub>F<sub>1</sub>PU displayed a significant hysteresis loop</div>
<div class="bl" style="left:88px;top:1293.47px;letter-spacing:0.219px;">(25.83 MJ m<sup>−3</sup>) in the first load-to-unload curve, indicating that</div>
<div class="bl" style="left:88px;top:1313.64px;letter-spacing:0.400px;">hydrogen bonds in the molecular chain were induced to break</div>
<div class="bl" style="left:556px;top:1071.60px;letter-spacing:0.129px;">under external forces, resulting in substantial energy dissipation.</div>
<div class="bl" style="left:556px;top:1091.77px;letter-spacing:0.400px;">By the 10th cycle, the hysteresis loop area of P<sub>1</sub>F<sub>1</sub>PU had sta-</div>
<div class="bl" style="left:556px;top:1111.94px;letter-spacing:0.320px;">bilized (~3 MJ m<sup>−3</sup>), suggesting that hydrogen bond breaking-</div>
<div class="bl" style="left:556px;top:1132.11px;letter-spacing:0.400px;">reconstruction had reached equilibrium (Figure <a>S22</a>, Support-</div>
<div class="bl" style="left:556px;top:1152.28px;letter-spacing:0.224px;">ing Information). With increasing FDHA content, the hysteresis</div>
<div class="bl" style="left:556px;top:1172.45px;letter-spacing:0.339px;">area increases significantly, implying decreased polymer chain</div>
<div class="bl" style="left:556px;top:1192.62px;letter-spacing:0.230px;">rearrangement capacity and increased energy dissipation capac-</div>
<div class="bl" style="left:556px;top:1212.79px;letter-spacing:0.367px;">ity. This is attributed to the multiple hydrogen bonding caused</div>
<div class="bl" style="left:556px;top:1232.96px;letter-spacing:0.358px;">by FDHA introduction. As a physical cross-linking site, multi-</div>
<div class="bl" style="left:556px;top:1253.13px;letter-spacing:0.294px;">ple hydrogen bonds enhance the interaction between molecular</div>
<div class="bl" style="left:556px;top:1273.30px;letter-spacing:0.304px;">chains, thus limiting rapid molecular chain rearrangement. The</div>
<div class="bl" style="left:556px;top:1293.47px;letter-spacing:0.231px;">gradient hydrogen bond design of P<sub>1</sub>F<sub>1</sub>PU achieves efficient re-</div>
<div class="bl" style="left:556px;top:1313.64px;letter-spacing:0.278px;">versible energy dissipation (low hysteresis area), while P<sub>1</sub>F<sub>2</sub>PU</div>
<div class="ft" id="f1" style="left:88px;top:1378.6px;font-size:11.65px"><i>Adv. Funct. Mater.</i> <b>2025</b>, e10461</div>
<div class="ft" id="f2" style="left:488.5px;top:1375px;font-size:14.8px;font-weight:bold;letter-spacing:-0.1px">e10461 (6 of 12)</div>
<div class="ft" id="f3" style="right:82px;top:1378.6px;font-size:11.65px">© 2025 Wiley-VCH GmbH</div>
</div>
</body></html>
